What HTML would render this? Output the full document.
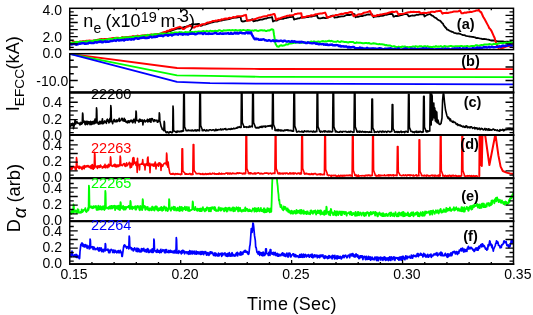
<!DOCTYPE html>
<html><head><meta charset="utf-8"><style>
html,body{margin:0;padding:0;background:#fff;}
svg{display:block;}
</style></head><body>
<svg width="533" height="315" viewBox="0 0 533 315">
<rect width="533" height="315" fill="#fff"/>
<defs>
<clipPath id="ca"><rect x="69.8" y="8.3" width="443.8" height="41.3"/></clipPath>
<clipPath id="cb"><rect x="69.8" y="53.7" width="443.8" height="38.8"/></clipPath>
<clipPath id="cc"><rect x="69.8" y="92.6" width="443.8" height="42.6"/></clipPath>
<clipPath id="cd"><rect x="69.8" y="135.2" width="443.8" height="43.0"/></clipPath>
<clipPath id="ce"><rect x="69.8" y="178.2" width="443.8" height="43.0"/></clipPath>
<clipPath id="cf"><rect x="69.8" y="221.2" width="443.8" height="42.9"/></clipPath>
</defs>
<polyline points="70.0,42.9 71.5,43.3 73.0,43.1 74.5,42.6 76.0,42.6 77.5,42.4 79.0,42.4 80.5,42.4 82.0,41.7 83.5,41.5 85.0,41.9 86.5,41.5 88.0,41.6 89.5,40.9 91.0,41.1 92.5,41.1 94.0,40.6 95.5,41.0 97.0,40.8 98.5,40.0 100.0,39.9 101.5,40.1 103.0,40.2 104.5,39.7 106.0,39.4 107.5,39.4 109.0,39.0 110.5,39.0 112.0,39.0 113.5,38.8 115.0,38.5 116.5,38.4 118.0,38.2 119.5,38.2 121.0,38.0 122.5,37.6 124.0,38.0 125.5,37.7 127.0,37.6 128.5,37.1 130.0,37.5 131.5,37.3 133.0,36.6 134.5,36.6 136.0,36.8 137.5,36.6 139.0,36.6 140.5,36.1 142.0,36.3 143.5,36.0 145.0,35.6 146.5,35.7 148.0,35.7 149.5,35.6 151.0,35.2 152.5,35.1 154.0,34.6 155.5,34.6 157.0,34.8 158.5,34.4 160.0,34.1 161.5,33.9 163.0,33.5 164.5,33.0 166.0,32.3 167.5,31.9 169.0,31.4 170.5,31.1 172.0,30.5 173.5,29.9 175.0,29.5 176.5,28.8 178.0,28.4 179.5,28.5 181.0,28.3 182.5,27.7 184.0,27.2 185.0,26.8 185.5,26.8 187.0,26.5 188.5,25.8 190.0,25.0 191.5,24.7 192.0,24.0 193.0,24.2 194.5,24.4 196.0,24.1 197.5,24.0 199.0,23.8 200.5,25.8 202.0,25.6 203.5,24.5 205.0,24.6 206.5,24.1 208.0,23.7 209.5,23.1 210.0,23.0 211.0,22.6 212.5,22.3 214.0,21.9 215.5,21.4 217.0,21.7 218.5,21.1 220.0,20.6 221.5,20.5 223.0,20.2 224.5,19.8 226.0,19.5 227.5,19.3 229.0,19.1 230.0,18.9 230.5,18.7 232.0,18.1 233.5,17.9 235.0,17.5 236.5,17.5 238.0,17.4 239.5,17.0 240.5,16.8 241.0,19.2 241.5,21.1 242.5,21.5 244.0,21.3 245.5,20.8 247.0,20.7 248.5,20.3 250.0,20.4 251.5,19.6 252.5,19.2 253.0,20.6 253.5,21.4 254.5,21.0 256.0,20.7 257.5,20.6 259.0,20.0 260.5,19.7 262.0,19.7 263.5,19.1 265.0,18.7 266.5,18.5 268.0,17.8 269.5,17.7 271.0,17.4 272.0,17.0 272.5,19.0 273.0,21.6 274.0,21.0 275.5,20.4 276.0,20.6 277.0,20.5 278.5,19.5 280.0,19.2 281.5,18.9 283.0,18.9 284.5,18.1 286.0,18.1 287.5,17.7 289.0,17.3 290.0,16.8 290.5,17.2 292.0,16.9 293.0,16.5 293.5,17.8 294.0,19.6 295.0,19.2 296.5,18.9 298.0,18.4 299.5,18.3 301.0,17.5 302.5,17.4 304.0,17.7 305.5,17.4 307.0,16.8 308.5,17.0 310.0,16.4 311.5,16.6 313.0,16.2 314.5,15.8 316.0,15.5 317.0,15.2 317.5,17.1 318.0,17.9 319.0,18.4 320.5,18.4 322.0,18.0 323.5,17.7 325.0,18.1 326.5,18.1 327.0,17.8 328.0,17.4 329.5,16.8 331.0,16.2 332.5,15.6 333.5,15.6 334.0,16.6 334.5,17.6 335.5,17.3 337.0,17.4 338.5,16.9 340.0,16.7 341.5,16.3 343.0,16.4 344.5,16.1 346.0,15.2 347.5,15.0 349.0,14.8 350.0,15.0 350.5,14.8 352.0,14.3 353.5,14.0 354.5,14.1 355.0,15.7 355.5,17.3 356.5,16.7 358.0,16.8 359.5,16.4 361.0,16.0 362.5,16.1 364.0,15.3 365.5,15.3 367.0,14.6 368.5,14.4 370.0,14.7 371.5,13.9 372.0,14.2 373.0,16.1 373.5,17.2 374.5,16.7 376.0,16.5 377.5,16.2 379.0,16.3 380.5,15.9 382.0,15.9 383.5,15.6 385.0,14.8 386.5,14.8 388.0,14.3 389.5,14.0 391.0,13.8 392.5,14.1 393.5,16.7 394.0,16.6 395.5,16.0 397.0,16.0 398.5,15.8 400.0,15.3 401.5,15.1 403.0,14.6 404.5,14.2 406.0,14.1 407.5,14.3 408.5,16.2 409.0,16.4 410.5,15.9 412.0,15.5 413.5,15.7 415.0,15.5 416.5,14.7 418.0,14.9 419.5,14.3 421.0,14.1 422.5,14.4 423.5,13.7 424.0,14.9 424.5,16.5 425.5,15.8 427.0,15.0 428.5,14.5 430.0,14.0 431.5,15.3 433.0,15.9 434.5,17.4 436.0,18.0 437.5,19.4 439.0,20.3 440.0,20.6 440.5,21.1 442.0,22.9 443.0,23.7 443.5,24.9 445.0,27.0 446.5,28.5 447.0,29.6 448.0,29.7 449.5,30.7 451.0,31.4 452.0,31.9 452.5,31.8 454.0,32.8 455.5,33.2 457.0,33.6 458.5,33.4 460.0,33.8 461.5,34.5 463.0,35.1 464.5,35.2 466.0,35.8 467.5,36.1 469.0,36.3 470.0,36.7 470.5,36.6 472.0,36.9 473.5,37.0 475.0,37.4 476.5,38.1 478.0,38.0 479.5,38.4 481.0,38.6 482.5,39.1 484.0,38.9 485.5,39.1 487.0,39.4 488.5,39.6 490.0,40.2 491.5,40.5 493.0,40.3 494.5,40.6 496.0,41.0 497.5,41.3 499.0,41.5 500.0,41.4 500.5,41.3 502.0,41.5 503.5,41.5 505.0,41.9 506.5,41.6 508.0,41.7 509.5,42.2 511.0,42.0 512.5,42.4" fill="none" stroke="#000" stroke-width="1.8" stroke-linejoin="round" clip-path="url(#ca)"/>
<polyline points="70.0,43.0 71.5,42.8 73.0,41.9 74.5,41.8 76.0,42.3 77.5,42.0 79.0,41.8 80.5,41.4 82.0,41.5 83.5,41.3 85.0,41.2 86.5,40.7 88.0,40.7 89.5,40.6 91.0,40.7 92.5,40.7 94.0,40.6 95.5,40.1 97.0,39.9 98.5,39.6 100.0,39.2 101.5,39.1 103.0,39.3 104.5,39.0 106.0,38.9 107.5,39.2 109.0,38.7 110.5,38.6 112.0,38.2 113.5,37.9 115.0,38.0 116.5,37.7 118.0,37.8 119.5,38.0 121.0,37.6 122.5,37.1 124.0,37.5 125.5,37.3 127.0,37.1 128.5,37.1 130.0,36.8 131.5,36.7 133.0,36.2 134.5,36.6 136.0,36.4 137.5,35.6 139.0,36.0 140.5,35.8 142.0,35.4 143.5,35.4 145.0,35.2 146.5,35.4 148.0,34.9 149.5,35.0 151.0,34.5 152.5,34.8 154.0,34.7 155.5,34.2 157.0,34.1 158.5,34.3 160.0,34.0 161.5,33.2 163.0,32.4 164.5,31.9 166.0,31.7 167.5,30.7 169.0,30.7 170.0,29.8 170.5,30.2 172.0,29.2 173.5,29.2 175.0,28.5 176.5,27.9 178.0,27.4 179.5,27.0 180.0,26.8 181.0,27.3 182.5,28.5 183.0,29.1 184.0,28.9 185.5,27.8 187.0,26.6 188.5,26.4 190.0,25.5 191.5,26.8 193.0,27.5 194.5,27.4 196.0,26.3 197.5,26.3 199.0,25.5 200.0,25.1 200.5,25.4 202.0,24.3 203.5,24.2 205.0,23.9 206.5,23.0 208.0,22.4 209.5,22.5 210.0,21.9 211.0,22.0 212.5,21.1 214.0,21.1 215.5,20.6 217.0,20.7 218.5,20.0 220.0,20.4 221.5,19.3 223.0,19.6 224.5,18.7 226.0,18.6 227.5,18.8 229.0,17.9 230.0,17.7 230.5,18.1 232.0,17.6 233.5,17.0 235.0,17.5 236.5,16.6 238.0,16.3 239.5,16.3 241.0,16.2 242.5,16.1 244.0,15.3 245.5,15.3 246.0,14.9 247.0,20.7 248.5,20.5 250.0,20.2 251.5,19.9 253.0,19.5 254.5,19.2 256.0,18.7 257.5,18.1 259.0,17.6 260.5,17.6 262.0,16.9 263.5,16.4 265.0,16.3 266.5,16.3 268.0,15.3 269.5,15.3 271.0,14.8 272.5,14.5 274.0,13.9 274.7,14.4 275.5,17.3 276.0,19.8 277.0,19.3 278.5,18.5 280.0,18.5 281.5,17.7 283.0,17.1 284.5,16.7 286.0,16.3 287.5,15.8 289.0,15.7 290.0,15.3 290.5,15.6 292.0,15.2 293.5,15.0 295.0,14.1 296.5,13.9 298.0,13.5 299.5,13.4 301.0,13.2 301.3,13.2 302.0,17.8 302.5,17.3 304.0,17.1 305.5,16.9 307.0,16.2 308.5,15.9 310.0,15.8 311.5,15.3 313.0,15.5 314.5,14.8 316.0,14.3 317.5,14.1 319.0,13.8 320.5,13.5 322.0,13.4 323.5,13.1 325.0,12.6 325.3,12.8 326.5,15.7 327.0,17.6 328.0,17.5 329.5,16.9 331.0,16.4 332.5,16.1 334.0,15.8 335.5,15.1 337.0,15.0 338.5,14.8 340.0,14.2 341.5,13.8 343.0,14.0 344.5,13.3 346.0,13.1 347.5,13.1 349.0,12.5 350.5,12.0 352.0,12.2 353.5,16.2 355.0,15.5 356.5,15.5 358.0,14.6 359.5,14.3 361.0,14.3 362.5,13.7 364.0,12.7 365.5,12.6 367.0,12.1 368.5,11.7 370.0,11.0 371.5,14.3 372.5,16.0 373.0,16.0 374.5,15.8 376.0,15.9 377.5,14.9 379.0,15.2 380.5,14.4 382.0,14.4 383.5,13.9 385.0,13.7 386.5,13.6 388.0,13.0 389.5,12.5 391.0,12.1 392.5,11.8 394.0,12.1 395.5,11.6 397.0,11.6 398.5,14.8 400.0,13.9 401.5,14.0 403.0,13.8 404.5,13.4 406.0,12.9 407.5,12.5 409.0,12.2 410.0,12.2 410.5,11.8 412.0,11.9 413.5,11.8 415.0,12.1 416.5,11.9 418.0,11.9 419.0,11.8 419.5,11.9 420.5,13.1 421.0,13.2 422.5,12.9 424.0,12.8 425.5,12.9 427.0,12.9 428.5,12.5 430.0,12.5 431.5,11.7 433.0,11.8 434.5,12.1 436.0,11.3 437.5,11.3 439.0,10.9 440.5,10.7 441.0,11.3 442.0,13.1 442.5,13.7 443.5,13.1 445.0,13.0 446.5,12.7 448.0,12.9 449.5,12.6 451.0,12.2 452.5,12.0 454.0,11.4 455.5,11.6 457.0,11.6 458.5,11.2 460.0,10.5 461.5,13.3 463.0,13.2 464.5,12.6 466.0,12.8 467.5,12.2 469.0,12.2 470.5,11.7 472.0,11.9 473.5,11.4 475.0,11.0 476.5,10.4 478.0,10.4 478.8,9.9 479.5,11.0 481.0,12.6 481.2,12.2 482.5,15.3 483.3,17.0 484.0,18.1 485.5,20.8 486.3,22.3 487.0,23.6 488.5,26.4 489.3,28.4 490.0,28.7 491.3,30.6 491.5,31.0 493.0,34.3 494.3,37.3 494.5,37.5 496.0,42.9 496.3,43.7 497.5,46.2 498.3,47.9 499.0,47.8 500.5,47.8 501.0,48.3 502.0,48.1 503.5,47.7 505.0,47.0 506.0,46.8 506.5,46.0 508.0,46.4 509.5,45.8 511.0,45.3 512.5,45.2" fill="none" stroke="#f00" stroke-width="2.0" stroke-linejoin="round" clip-path="url(#ca)"/>
<polyline points="70.0,42.7 71.2,42.9 72.4,42.6 73.6,42.7 74.8,42.6 76.0,42.0 77.2,41.8 78.4,42.5 79.6,41.8 80.8,41.7 82.0,42.3 83.2,41.7 84.4,41.9 85.6,41.4 86.8,41.5 88.0,40.9 89.2,41.2 90.4,41.3 91.6,40.9 92.8,41.0 94.0,40.8 95.2,40.0 96.4,40.6 97.6,40.3 98.8,39.9 100.0,39.5 101.2,40.2 102.4,39.7 103.6,39.9 104.8,39.9 106.0,39.6 107.2,39.7 108.4,39.1 109.6,39.3 110.8,38.9 112.0,39.2 113.2,39.1 114.4,38.2 115.6,38.1 116.8,38.0 118.0,38.7 119.2,38.0 120.4,38.1 121.6,37.6 122.8,37.7 124.0,37.5 125.2,37.3 126.4,37.4 127.6,37.3 128.8,37.5 130.0,37.2 131.2,37.3 132.4,37.1 133.6,37.1 134.8,36.7 136.0,36.1 137.2,36.6 138.4,36.6 139.6,36.4 140.8,36.0 142.0,36.0 143.2,35.4 144.4,35.9 145.6,35.5 146.8,35.1 148.0,34.8 149.2,35.4 150.4,35.4 151.6,34.4 152.8,35.0 154.0,34.5 155.2,34.1 156.4,34.2 157.6,34.5 158.8,34.5 160.0,33.5 161.2,34.0 162.4,33.4 163.6,33.9 164.8,33.5 166.0,33.9 167.2,33.9 168.4,33.4 169.6,33.8 170.8,33.0 172.0,32.7 173.2,33.1 174.4,32.5 175.6,32.5 176.8,32.6 178.0,32.8 179.2,32.2 180.0,32.0 180.4,32.8 181.6,32.2 182.8,32.8 184.0,32.7 185.2,32.1 186.4,32.2 187.6,32.2 188.8,32.2 190.0,32.1 191.2,32.1 192.4,32.1 193.6,32.3 194.8,31.8 196.0,31.7 197.2,31.9 198.4,31.4 199.6,31.4 200.0,32.1 200.8,31.6 202.0,31.6 203.2,31.0 204.4,31.3 205.6,31.4 206.8,30.8 208.0,31.4 209.2,31.3 210.4,30.7 211.6,31.2 212.8,31.0 214.0,31.2 215.2,30.8 216.4,31.1 217.6,31.1 218.8,30.3 220.0,30.3 221.2,30.9 222.4,31.1 223.6,30.3 224.8,30.5 226.0,30.6 227.2,30.2 228.4,30.2 229.6,30.1 230.0,30.2 230.8,30.4 232.0,30.1 233.2,30.2 234.4,30.6 235.6,29.9 236.8,30.4 238.0,30.6 239.2,30.2 240.4,30.1 241.6,30.7 242.8,30.1 244.0,30.1 245.2,30.4 246.4,30.6 247.6,30.0 248.8,30.3 250.0,30.3 251.2,30.8 252.4,30.4 253.6,30.8 254.8,30.2 256.0,30.3 257.2,30.7 258.4,30.9 259.6,30.5 260.8,30.3 262.0,30.2 263.2,30.6 264.4,30.3 265.6,30.9 266.8,30.9 268.0,30.3 268.7,30.4 269.2,30.6 270.4,29.8 271.0,29.6 271.6,29.3 272.8,29.5 273.3,29.8 274.0,34.7 275.2,41.9 275.5,43.8 276.4,45.3 277.3,46.6 277.6,46.5 278.8,46.7 280.0,45.6 281.2,45.2 282.4,45.8 283.6,45.4 284.8,45.2 286.0,44.3 287.2,44.5 288.4,44.2 289.6,43.1 290.0,43.5 290.8,43.6 292.0,43.3 293.2,43.1 294.4,42.8 295.6,42.8 296.8,42.6 298.0,42.3 299.2,42.8 300.4,42.4 301.6,42.9 302.8,42.0 304.0,42.8 305.2,42.5 306.4,42.7 307.6,42.6 308.8,42.5 310.0,42.1 311.2,41.5 312.4,42.1 313.6,41.5 314.8,41.6 316.0,41.9 317.2,41.7 318.4,41.5 319.6,42.0 320.8,41.6 322.0,41.2 323.2,41.1 324.4,41.6 325.6,41.2 326.8,41.4 328.0,41.0 329.2,40.7 330.0,41.0 330.4,41.3 331.6,40.8 332.8,41.5 334.0,41.7 335.2,41.7 336.4,41.8 337.6,41.0 338.8,41.7 340.0,42.1 341.2,41.3 342.4,41.6 343.6,41.7 344.8,42.1 346.0,42.0 347.2,42.2 348.4,42.6 349.6,41.9 350.0,42.0 350.8,42.1 352.0,42.1 353.2,42.1 354.4,43.1 355.6,43.1 356.8,42.3 358.0,42.8 359.2,42.7 360.4,42.8 361.6,42.9 362.8,43.2 364.0,43.2 365.2,43.1 366.4,43.0 367.6,43.2 368.8,43.0 370.0,43.5 371.2,43.7 372.4,43.5 373.6,43.2 374.8,43.4 376.0,43.7 377.2,44.0 378.4,44.2 379.6,43.9 380.0,44.3 380.8,44.3 382.0,44.3 383.2,44.4 384.4,44.8 385.6,45.2 386.8,45.1 388.0,45.6 389.2,45.6 390.4,45.6 391.6,46.1 392.8,46.5 394.0,46.1 395.0,46.6 395.2,46.6 396.4,47.1 397.6,47.2 398.8,46.6 400.0,47.1 401.2,47.0 402.4,46.5 403.6,46.7 404.8,46.4 406.0,47.1 407.2,46.9 408.4,47.2 409.6,47.1 410.0,47.0 410.8,47.0 412.0,46.8 413.2,46.4 414.4,46.8 415.6,46.2 416.8,46.4 418.0,47.0 419.2,46.3 420.4,46.3 421.6,46.3 422.8,47.1 424.0,46.3 425.2,46.2 426.4,47.0 427.6,46.2 428.8,47.0 430.0,46.8 431.2,46.9 432.4,47.0 433.6,46.6 434.8,46.9 436.0,46.1 437.2,46.8 438.4,46.5 439.6,46.7 440.8,46.1 442.0,46.7 443.2,46.9 444.4,46.0 445.6,46.3 446.8,46.5 448.0,46.7 449.2,46.2 450.4,46.1 451.6,46.1 452.8,46.5 454.0,46.6 455.2,46.2 456.4,46.2 457.6,46.2 458.8,46.2 460.0,46.2 461.2,45.9 462.4,46.3 463.6,46.7 464.8,46.2 466.0,46.5 467.2,45.9 468.4,46.4 469.6,46.5 470.0,46.4 470.8,46.1 472.0,46.0 473.2,46.0 474.4,46.2 475.6,45.3 476.8,45.2 478.0,45.7 479.2,45.8 480.4,45.2 481.6,45.1 482.8,45.2 484.0,44.6 485.2,44.5 486.4,44.4 487.6,44.6 488.8,44.3 490.0,44.1 491.2,44.4 492.4,44.6 493.6,43.8 494.8,44.1 496.0,43.7 497.2,44.0 498.4,43.6 499.6,43.2 500.0,43.1 500.8,42.9 502.0,43.2 503.2,43.0 504.4,42.7 505.6,42.8 506.8,42.6 508.0,43.0 509.2,42.3 510.4,43.0 511.6,42.4 512.8,42.4" fill="none" stroke="#0f0" stroke-width="2.0" stroke-linejoin="round" clip-path="url(#ca)"/>
<polyline points="70.0,44.5 71.0,44.2 72.0,44.5 73.0,44.1 74.0,43.9 75.0,44.2 76.0,44.7 77.0,44.5 78.0,44.4 79.0,43.6 80.0,43.9 81.0,43.5 82.0,43.3 83.0,43.1 84.0,43.2 85.0,43.9 86.0,43.7 87.0,43.6 88.0,43.5 89.0,42.7 90.0,42.7 91.0,43.0 92.0,43.0 93.0,43.1 94.0,43.0 95.0,42.0 96.0,42.5 97.0,42.5 98.0,42.2 99.0,41.7 100.0,42.0 101.0,41.4 102.0,42.4 103.0,42.2 104.0,41.7 105.0,41.3 106.0,42.0 107.0,41.5 108.0,41.8 109.0,41.7 110.0,41.2 111.0,41.0 112.0,41.1 113.0,40.8 114.0,40.4 115.0,40.5 116.0,41.0 117.0,40.0 118.0,40.0 119.0,40.6 120.0,40.1 121.0,40.3 122.0,40.1 123.0,39.9 124.0,40.6 125.0,39.6 126.0,39.7 127.0,39.4 128.0,39.8 129.0,39.3 130.0,39.3 131.0,39.7 132.0,39.1 133.0,39.2 134.0,39.5 135.0,38.4 136.0,38.3 137.0,38.4 138.0,38.9 139.0,38.6 140.0,38.0 141.0,38.0 142.0,37.7 143.0,37.9 144.0,37.3 145.0,38.0 146.0,38.1 147.0,38.1 148.0,37.7 149.0,37.8 150.0,36.6 151.0,36.8 152.0,37.5 153.0,37.1 154.0,36.6 155.0,37.1 156.0,36.6 157.0,36.7 158.0,36.0 159.0,35.7 160.0,35.9 161.0,35.5 162.0,35.7 163.0,36.3 164.0,35.5 165.0,35.0 166.0,34.9 167.0,35.0 168.0,35.7 169.0,35.1 170.0,34.9 171.0,34.6 172.0,35.6 173.0,34.8 174.0,34.5 175.0,34.2 176.0,34.1 177.0,34.2 178.0,34.7 179.0,34.0 180.0,33.7 181.0,34.3 182.0,33.9 183.0,34.8 184.0,33.7 185.0,34.2 186.0,34.4 187.0,34.0 188.0,34.6 189.0,34.0 190.0,33.7 191.0,33.9 192.0,33.4 193.0,33.8 194.0,33.6 195.0,34.3 196.0,34.2 197.0,33.8 198.0,33.2 199.0,33.4 200.0,33.4 201.0,33.3 202.0,33.3 203.0,34.1 204.0,33.2 205.0,33.0 206.0,34.0 207.0,33.6 208.0,34.0 209.0,33.3 210.0,33.9 211.0,33.6 212.0,33.7 213.0,33.7 214.0,33.4 215.0,32.9 216.0,33.0 217.0,33.8 218.0,33.8 219.0,33.9 220.0,33.2 221.0,33.5 222.0,33.7 223.0,33.5 224.0,33.7 225.0,33.4 226.0,33.5 227.0,33.5 228.0,33.0 229.0,33.8 230.0,33.8 231.0,32.8 232.0,33.8 233.0,33.8 234.0,33.4 235.0,32.6 236.0,33.6 237.0,32.7 238.0,33.7 239.0,33.3 240.0,32.5 241.0,32.6 242.0,33.2 243.0,33.1 244.0,33.3 245.0,33.5 246.0,32.6 247.0,32.3 248.0,33.4 249.0,32.3 250.0,33.3 251.0,32.3 252.0,34.9 253.0,36.5 254.0,38.3 254.5,38.8 255.0,39.2 256.0,38.5 257.0,39.2 258.0,38.9 259.0,39.8 260.0,39.7 261.0,39.5 262.0,39.7 263.0,39.2 264.0,39.4 265.0,40.2 266.0,40.2 267.0,40.8 268.0,40.6 269.0,40.1 270.0,40.5 271.0,41.1 272.0,40.8 273.0,40.2 274.0,41.2 275.0,41.2 276.0,40.4 277.0,41.0 278.0,40.8 279.0,41.3 280.0,40.8 281.0,40.7 282.0,41.0 283.0,41.6 284.0,40.6 285.0,40.7 286.0,41.3 287.0,41.7 288.0,41.3 289.0,41.2 290.0,41.7 291.0,41.7 292.0,41.0 293.0,42.0 294.0,41.3 295.0,41.5 296.0,42.2 297.0,41.8 298.0,42.3 299.0,41.7 300.0,42.6 301.0,41.8 302.0,41.9 303.0,42.4 304.0,42.3 305.0,42.6 306.0,43.1 307.0,43.0 308.0,42.2 309.0,42.7 310.0,43.1 311.0,43.1 312.0,43.4 313.0,43.2 314.0,42.8 315.0,43.1 316.0,43.9 317.0,43.4 318.0,44.0 319.0,44.3 320.0,44.0 321.0,44.1 322.0,44.2 323.0,43.9 324.0,44.7 325.0,44.2 326.0,44.9 327.0,44.2 328.0,45.0 329.0,45.0 330.0,44.8 331.0,44.8 332.0,44.5 333.0,45.4 334.0,45.1 335.0,45.5 336.0,45.0 337.0,45.1 338.0,45.3 339.0,46.2 340.0,45.6 341.0,46.6 342.0,46.1 343.0,46.5 344.0,46.3 345.0,46.8 346.0,46.3 347.0,46.8 348.0,47.6 349.0,46.8 350.0,47.5 351.0,47.2 352.0,47.2 353.0,46.9 354.0,47.0 355.0,48.1 356.0,48.1 357.0,48.1 358.0,48.1 359.0,48.4 360.0,47.5 361.0,48.1 362.0,48.0 363.0,48.2 364.0,48.7 365.0,48.5 366.0,48.8 367.0,47.8 368.0,48.5 369.0,48.5 370.0,48.6 371.0,48.5 372.0,48.8 373.0,48.2 374.0,49.0 375.0,48.4 376.0,48.6 377.0,49.0 378.0,48.8 379.0,48.3 380.0,48.3 381.0,48.4 382.0,48.8 383.0,49.3 384.0,49.2 385.0,48.6 386.0,48.6 387.0,49.1 388.0,48.5 389.0,48.7 390.0,48.2 391.0,48.4 392.0,48.9 393.0,49.1 394.0,49.0 395.0,48.7 396.0,49.5 397.0,49.1 398.0,48.5 399.0,48.5 400.0,49.6 401.0,49.6 402.0,49.5 403.0,49.1 404.0,48.8 405.0,48.5 406.0,48.7 407.0,48.7 408.0,49.5 409.0,49.5 410.0,49.3 411.0,48.6 412.0,48.7 413.0,48.8 414.0,49.5 415.0,48.6 416.0,49.3 417.0,49.2 418.0,49.1 419.0,49.6 420.0,48.7 421.0,49.0 422.0,48.6 423.0,48.5 424.0,48.4 425.0,48.8 426.0,48.5 427.0,48.5 428.0,49.6 429.0,48.7 430.0,49.5 431.0,49.2 432.0,49.3 433.0,49.2 434.0,49.5 435.0,49.5 436.0,49.3 437.0,49.1 438.0,49.2 439.0,49.3 440.0,49.1 441.0,49.0 442.0,48.6 443.0,49.4 444.0,49.0 445.0,48.5 446.0,48.6 447.0,49.4 448.0,48.7 449.0,48.9 450.0,49.2 451.0,49.4 452.0,48.7 453.0,48.8 454.0,48.8 455.0,48.3 456.0,49.3 457.0,48.2 458.0,49.3 459.0,48.3 460.0,48.3 461.0,49.1 462.0,49.0 463.0,48.3 464.0,48.6 465.0,48.5 466.0,48.8 467.0,48.1 468.0,48.9 469.0,49.0 470.0,48.6 471.0,48.8 472.0,48.8 473.0,48.0 474.0,48.5 475.0,48.5 476.0,48.1 477.0,47.4 478.0,48.0 479.0,48.3 480.0,47.5 481.0,47.8 482.0,48.0 483.0,47.6 484.0,46.9 485.0,47.5 486.0,47.0 487.0,47.6 488.0,47.3 489.0,46.8 490.0,47.5 491.0,47.1 492.0,46.7 493.0,47.2 494.0,47.2 495.0,47.1 496.0,47.0 497.0,46.7 498.0,46.7 499.0,46.5 500.0,46.3 501.0,46.8 502.0,45.9 503.0,45.5 504.0,46.1 505.0,45.8 506.0,45.7 507.0,45.7 508.0,45.1 509.0,45.0 510.0,44.7 511.0,45.5 512.0,45.5 513.0,45.1" fill="none" stroke="#00f" stroke-width="2.4" stroke-linejoin="round" clip-path="url(#ca)"/>
<polyline points="69.8,53.9 177.0,68.0 210.0,68.5 260.0,69.0 513.5,69.2" fill="none" stroke="#f00" stroke-width="1.8" stroke-linejoin="round" clip-path="url(#cb)"/>
<polyline points="69.8,53.9 177.0,75.3 210.0,75.9 260.0,76.8 513.5,77.1" fill="none" stroke="#0f0" stroke-width="1.8" stroke-linejoin="round" clip-path="url(#cb)"/>
<polyline points="69.8,53.9 177.0,81.9 210.0,83.1 260.0,83.7 513.5,84.3" fill="none" stroke="#00f" stroke-width="1.8" stroke-linejoin="round" clip-path="url(#cb)"/>
<polyline points="70.0,125.1 70.5,126.7 71.0,125.1 71.5,123.8 72.0,125.3 72.5,123.3 73.0,123.2 73.5,128.6 74.0,126.1 74.5,124.7 74.7,123.3 75.0,119.7 75.3,120.4 75.6,124.0 76.9,121.7 77.4,122.5 77.9,123.3 78.4,123.5 78.9,123.3 79.4,123.1 79.9,124.9 80.4,124.3 80.9,122.4 81.4,124.2 81.9,122.7 82.4,122.6 82.2,123.6 82.6,113.0 82.9,114.5 83.2,122.5 84.5,121.2 85.0,124.4 85.5,124.7 86.0,121.4 86.5,123.9 87.0,121.4 87.5,124.5 88.0,121.5 88.5,123.5 89.0,121.7 89.5,122.6 90.0,124.6 90.5,121.4 91.0,121.7 91.5,124.5 92.0,122.0 92.5,121.7 93.0,124.0 93.5,121.3 94.0,121.6 94.5,123.6 95.0,119.0 95.5,122.9 96.0,123.0 96.2,122.5 96.5,107.9 96.8,110.1 97.1,121.9 98.4,124.2 98.9,122.8 99.4,121.4 99.9,124.0 100.4,121.6 100.9,123.3 101.4,121.2 101.9,123.7 102.4,118.7 102.9,123.8 103.4,122.9 103.9,123.2 104.4,121.3 104.9,120.8 105.4,122.1 105.9,122.2 106.4,123.3 106.9,120.0 107.4,119.2 107.9,121.1 108.4,120.2 108.9,122.9 109.4,122.0 109.9,118.4 110.4,119.6 110.5,121.6 110.8,105.6 111.1,108.0 111.4,120.5 112.7,123.7 113.2,120.9 113.7,120.3 114.2,119.4 114.7,121.7 115.2,121.6 115.7,121.7 116.2,120.0 116.7,121.8 117.2,119.9 117.7,121.4 118.2,120.4 118.7,120.1 119.2,118.2 119.7,121.4 120.2,120.4 120.7,120.5 121.2,119.6 121.7,118.4 122.2,118.4 122.7,120.1 123.2,121.0 123.7,120.8 124.2,118.3 124.7,121.3 125.2,119.6 125.7,121.5 126.2,122.5 126.7,121.8 127.2,121.1 127.7,122.9 128.2,121.1 128.7,120.8 129.2,122.6 129.7,122.1 130.2,120.5 130.7,121.1 131.2,120.2 131.7,121.6 132.2,120.5 132.7,122.8 133.2,122.1 133.7,119.4 134.2,121.2 134.7,119.4 135.2,123.0 135.7,116.7 135.7,121.1 136.0,111.0 136.3,112.5 136.6,120.3 137.9,120.5 138.4,121.2 138.9,122.2 139.4,119.5 139.9,119.2 140.4,121.3 140.9,119.7 141.4,121.2 141.9,120.8 142.4,120.0 142.9,124.9 143.4,120.9 143.9,120.8 144.4,119.9 144.9,121.7 145.4,121.9 145.9,120.8 146.4,121.1 146.9,120.8 147.4,119.2 147.9,122.0 148.4,120.4 148.9,119.6 149.4,121.5 149.9,118.7 150.4,120.3 150.9,122.3 151.4,118.6 151.9,118.9 152.4,118.7 152.9,120.1 153.4,121.3 153.9,121.6 154.4,119.7 154.9,120.1 155.4,120.9 155.9,120.4 156.4,120.6 156.9,120.1 157.4,122.2 157.9,122.1 158.4,121.1 158.9,120.1 159.0,121.3 159.3,112.9 159.6,114.2 159.9,120.9 161.2,126.8 161.7,127.5 162.2,129.4 162.7,129.2 163.2,129.6 163.7,130.6 163.8,130.7 164.2,121.3 164.5,122.7 164.8,130.2 166.1,132.5 166.6,132.7 167.1,131.8 167.6,132.5 168.1,132.2 168.6,133.0 169.1,132.9 169.6,131.9 170.1,132.2 170.6,131.7 171.1,132.1 171.6,132.6 172.1,132.7 172.6,132.0 172.7,131.9 173.0,106.0 173.3,109.9 173.6,130.7 175.1,131.5 175.6,132.0 176.1,132.4 176.6,131.3 177.1,132.2 177.6,131.1 178.1,131.3 178.6,131.3 179.1,131.9 179.6,131.4 180.1,131.4 180.6,131.7 181.1,130.9 181.6,131.7 182.1,130.8 182.6,131.3 183.1,130.8 183.6,130.7 183.3,131.1 183.7,94.0 184.3,94.0 184.6,126.7 186.1,130.4 186.1,130.7 186.6,130.6 187.1,130.6 187.6,130.7 188.1,130.1 188.6,130.1 189.1,130.6 189.6,130.5 190.1,130.3 190.6,130.8 191.1,130.5 191.6,130.8 192.1,129.9 192.6,130.7 193.1,130.8 193.6,130.9 194.1,130.1 194.6,130.1 195.1,130.9 195.6,129.9 196.1,131.0 196.6,130.9 197.1,129.8 197.6,130.0 198.1,130.7 198.6,130.0 199.1,129.8 199.6,130.8 199.5,130.3 199.8,90.0 200.4,90.0 200.7,125.5 202.2,129.5 202.2,130.8 202.7,129.8 203.2,130.2 203.7,130.6 204.2,129.7 204.7,130.0 205.2,130.6 205.7,131.0 206.2,131.0 206.7,129.8 207.2,130.4 207.7,130.7 208.2,130.4 208.7,130.7 209.2,130.0 209.7,129.8 210.2,129.8 210.7,129.7 211.2,130.4 211.7,130.3 212.2,130.3 212.7,129.7 213.2,129.7 213.7,129.7 214.2,130.6 214.7,130.7 215.2,130.6 215.7,129.4 216.2,129.3 216.7,130.5 217.2,129.8 217.7,130.2 218.2,129.5 218.7,129.7 219.2,129.7 219.7,129.6 220.2,129.8 220.7,128.9 221.2,129.8 221.7,130.0 222.2,129.0 222.7,129.4 223.2,129.7 223.7,129.2 224.2,128.9 224.7,128.8 225.2,129.3 225.7,128.5 226.2,129.7 226.7,129.6 227.2,129.4 227.7,129.6 228.2,129.2 228.7,128.9 229.2,129.1 229.7,128.9 230.2,129.5 230.7,129.2 231.2,128.4 231.7,129.2 232.2,128.9 232.7,128.9 233.2,128.8 233.7,128.2 234.2,128.8 234.7,128.7 235.2,128.3 235.7,128.4 236.2,128.3 236.7,127.7 237.2,128.1 237.7,127.1 238.2,127.4 238.7,127.5 239.2,126.7 239.7,127.1 240.2,127.5 240.7,127.4 241.2,126.7 241.1,127.4 241.4,90.0 242.0,90.0 242.3,122.6 243.8,126.3 243.8,127.2 244.3,126.7 244.8,127.1 245.3,127.0 245.8,126.9 246.3,126.7 246.8,127.5 247.3,127.0 247.8,127.0 248.3,127.1 248.8,127.4 249.3,126.0 249.8,126.8 250.3,127.0 250.8,126.3 251.3,126.5 251.8,126.0 252.3,126.4 252.3,126.9 252.7,90.0 253.3,90.0 253.6,122.6 255.1,126.3 255.1,127.1 255.6,127.3 256.1,128.1 256.6,127.6 257.1,127.4 257.6,128.0 258.1,127.4 258.6,128.0 259.1,127.4 259.6,127.6 260.1,126.5 260.6,127.2 261.1,127.3 261.6,126.3 262.1,127.4 262.6,126.3 263.1,126.7 263.6,126.2 264.1,126.6 264.6,126.7 265.1,125.9 265.6,127.1 266.1,126.3 266.6,126.4 267.1,126.4 267.6,126.0 268.1,125.8 268.6,126.3 269.1,126.1 269.6,125.7 270.1,126.2 270.6,125.6 271.1,125.3 271.6,126.7 272.1,127.5 272.2,128.9 272.6,90.0 273.2,90.0 273.5,124.5 275.0,128.4 275.0,130.4 275.5,129.9 276.0,130.6 276.5,130.5 277.0,129.5 277.5,130.8 278.0,130.8 278.5,129.6 279.0,130.7 279.5,130.1 280.0,130.2 280.5,130.9 281.0,129.9 281.5,130.3 282.0,130.9 282.5,130.6 283.0,130.3 283.5,131.0 284.0,130.8 284.5,130.5 285.0,129.8 285.5,130.5 286.0,130.3 286.5,130.0 287.0,129.8 287.5,130.5 288.0,129.9 288.5,130.4 289.0,130.7 289.5,130.4 290.0,130.2 290.5,130.6 291.0,130.4 291.5,130.9 292.0,130.6 292.5,131.3 293.0,131.2 293.5,131.2 293.5,130.8 293.9,90.0 294.5,90.0 294.8,126.1 296.3,130.2 296.3,131.0 296.8,132.1 297.3,131.9 297.8,131.7 298.3,131.3 298.8,131.2 299.3,131.8 299.8,131.6 300.3,131.7 300.8,131.7 301.3,131.9 301.8,131.1 302.3,131.2 302.8,132.2 303.3,132.1 303.8,132.1 304.3,130.9 304.8,130.9 305.3,131.2 305.8,131.4 306.3,131.7 306.8,131.0 307.3,131.6 307.8,131.0 308.3,131.0 308.8,131.8 309.3,131.6 309.8,131.8 310.3,131.4 310.8,131.5 311.3,131.2 311.8,131.4 312.3,131.9 312.8,132.1 313.3,131.0 313.8,131.1 314.3,132.0 314.8,131.8 315.3,132.0 315.8,131.2 316.3,131.4 316.8,131.1 316.8,131.7 317.1,90.0 317.7,90.0 318.0,126.5 319.5,130.6 319.5,131.2 320.0,131.6 320.5,132.1 321.0,131.2 321.5,131.5 322.0,131.8 322.5,132.0 323.0,131.4 323.5,131.3 324.0,130.9 324.5,132.0 325.0,130.9 325.5,131.0 326.0,131.7 326.5,131.6 327.0,131.9 327.5,131.3 328.0,132.0 328.5,131.1 329.0,131.3 329.5,131.9 330.0,131.1 330.5,131.4 331.0,132.0 331.5,132.0 332.0,131.4 332.5,131.2 332.6,131.6 333.0,90.0 333.6,90.0 333.9,126.7 335.4,130.9 335.4,132.0 335.9,131.5 336.4,131.2 336.9,132.0 337.4,131.8 337.9,132.3 338.4,132.3 338.9,132.3 339.4,131.6 339.9,132.1 340.4,131.4 340.9,131.5 341.4,131.6 341.9,132.3 342.4,132.3 342.9,131.4 343.4,131.5 343.9,131.5 344.4,131.5 344.9,131.6 345.4,131.6 345.9,131.3 346.4,131.8 346.9,132.2 347.4,131.8 347.9,132.2 348.4,131.8 348.9,131.3 349.4,132.1 349.9,132.3 350.4,131.4 350.9,131.1 351.4,131.8 351.9,131.8 352.4,131.8 352.9,132.4 353.4,132.0 353.9,132.2 354.0,131.4 354.4,90.0 355.0,90.0 355.3,126.7 356.8,130.9 356.8,131.8 357.3,132.2 357.8,131.2 358.3,131.2 358.8,132.1 359.3,132.3 359.8,131.2 360.3,132.0 360.8,131.3 361.3,132.1 361.8,132.0 362.3,131.4 362.8,131.4 363.3,132.1 363.8,131.8 364.3,132.1 364.8,131.6 365.3,131.6 365.8,132.4 366.3,132.0 366.8,131.8 367.3,131.8 367.8,132.1 368.3,132.1 368.8,132.4 369.3,131.7 369.8,132.2 370.3,132.0 370.8,132.3 371.3,132.2 371.8,132.3 371.5,132.1 371.9,99.1 372.5,99.1 372.8,127.9 374.3,131.1 374.3,132.4 374.8,132.0 375.3,131.8 375.8,132.1 376.3,132.2 376.8,131.7 377.3,131.7 377.8,131.3 378.3,132.1 378.8,132.5 379.3,131.6 379.8,131.3 380.3,131.4 380.8,131.7 381.3,131.5 381.8,132.5 382.3,131.2 382.8,131.5 383.3,131.3 383.8,132.0 384.3,132.2 384.8,131.4 385.3,131.2 385.8,131.8 386.3,131.9 386.8,132.4 387.3,131.2 387.8,131.3 388.3,131.4 388.8,131.4 389.3,131.5 389.8,132.1 390.3,132.0 390.8,131.4 391.3,131.4 391.8,131.5 391.8,131.6 392.2,104.5 392.8,104.5 393.1,128.6 394.6,131.3 394.6,132.2 395.1,131.6 395.6,131.9 396.1,132.3 396.6,131.8 397.1,131.5 397.6,132.4 398.1,132.4 398.6,131.6 399.1,131.9 399.6,132.5 400.1,131.8 400.6,131.5 401.1,131.2 401.6,132.5 402.1,132.3 402.6,131.7 403.1,131.9 403.6,131.9 404.1,131.5 404.6,132.6 405.1,132.1 405.6,131.5 406.1,131.2 406.6,131.8 407.1,131.7 407.6,132.3 408.1,132.2 408.1,131.9 408.5,94.3 409.1,94.3 409.4,127.4 410.9,131.1 410.9,131.4 411.4,131.4 411.9,131.6 412.4,131.5 412.9,132.4 413.4,131.9 413.9,132.1 414.4,132.6 414.9,131.6 415.4,131.9 415.9,131.4 416.4,132.3 416.9,131.2 417.4,132.3 417.9,132.4 418.4,132.3 418.9,131.3 419.4,131.6 419.9,132.2 420.4,131.3 420.9,131.8 421.4,131.8 421.9,132.4 422.4,131.9 422.9,132.2 423.4,131.4 423.2,131.9 423.6,96.4 424.2,96.4 424.5,127.4 426.0,130.9 426.0,131.4 426.5,132.0 427.0,130.8 427.5,131.8 428.0,130.9 428.5,131.4 429.0,131.3 429.5,130.8 429.8,131.0 430.2,93.0 430.8,93.0 431.2,125.0 431.6,94.0 432.2,96.0 432.6,120.0 433.2,110.0 433.8,103.0 434.3,118.0 434.8,108.0 435.3,121.0 435.8,111.0 436.3,122.0 436.8,112.0 437.3,123.0 438.0,120.0 439.0,124.0 440.0,124.5 441.0,123.5 442.0,118.0 442.6,100.0 443.2,93.8 443.8,94.0 444.5,102.0 445.5,110.0 447.0,116.0 448.0,118.3 448.5,117.2 449.0,119.0 449.5,118.5 450.0,120.6 450.5,119.1 451.0,121.0 451.5,121.0 452.0,121.6 452.5,122.1 453.0,121.1 453.5,121.6 454.0,122.6 454.5,122.1 455.0,122.4 455.5,122.6 456.0,124.0 456.5,124.4 457.0,124.5 457.5,123.8 458.0,125.4 458.5,124.9 459.0,124.7 459.5,125.4 460.0,125.7 460.5,125.1 461.0,126.1 461.5,125.8 462.0,126.2 462.5,126.9 463.0,126.5 463.5,126.2 464.0,127.1 464.5,127.4 465.0,126.5 465.5,127.4 466.0,125.8 466.5,126.1 467.0,126.3 467.5,127.7 468.0,127.3 468.5,127.5 469.0,126.8 469.5,127.2 470.0,128.0 470.5,126.7 471.0,126.8 471.5,126.7 472.0,127.6 472.5,128.3 473.0,127.9 473.5,127.7 474.0,127.9 474.5,127.4 475.0,128.9 475.5,127.9 476.0,127.8 476.5,128.0 477.0,129.0 477.5,128.2 478.0,129.3 478.5,128.4 479.0,128.6 479.5,128.1 480.0,129.6 480.5,129.5 481.0,128.9 481.5,128.3 482.0,129.0 482.5,128.9 483.0,129.7 483.5,129.9 484.0,129.6 484.5,128.8 485.0,128.4 485.5,130.0 486.0,130.1 486.5,128.7 487.0,129.4 487.5,129.4 488.0,130.3 488.5,128.7 489.0,128.7 489.5,130.2 490.0,129.7 490.5,129.6 491.0,130.2 491.5,129.9 492.0,130.1 492.5,129.4 493.0,129.1 493.5,129.0 494.0,129.6 494.5,130.2 495.0,129.8 495.5,129.8 496.0,130.3 496.5,130.5 497.0,130.3 497.5,129.9 498.0,130.8 498.5,130.8 499.0,131.0 499.5,131.1 500.0,129.5 500.5,130.6 501.0,130.0 501.5,130.0 502.0,130.1 502.5,129.4 503.0,129.5 503.5,130.8 504.0,129.5 504.5,130.5 505.0,130.0 505.5,129.2 506.0,129.2 506.5,129.6 507.0,129.7 507.5,129.0 508.0,128.4 508.5,128.5 509.0,129.7 509.5,129.4 510.0,128.2 510.5,129.6 511.0,129.2 511.5,128.9 512.0,130.0 512.5,128.7 513.0,128.7 513.5,129.2" fill="none" stroke="#000" stroke-width="1.6" stroke-linejoin="round" clip-path="url(#cc)"/>
<polyline points="478.5,176.2 479.3,176.0 479.6,134.0 480.3,134.0 480.6,165.0 481.2,134.0 481.8,166.0 482.5,134.0 485.0,134.0 489.4,165.0 495.4,134.0 498.4,155.4 500.6,166.6 502.8,171.0 506.6,172.6 510.0,173.5 513.5,174.0" fill="none" stroke="#f00" stroke-width="2.0" stroke-linejoin="round" clip-path="url(#cd)"/>
<polyline points="70.0,168.7 70.5,169.4 70.9,166.7 71.4,167.7 71.8,169.3 72.3,168.8 72.7,167.1 73.2,167.1 73.6,166.6 74.1,166.6 74.5,167.6 75.0,167.8 75.4,169.8 75.9,166.5 76.3,169.8 76.2,167.9 76.5,157.6 76.8,159.2 77.1,167.5 78.4,166.3 78.8,168.2 79.3,168.5 79.7,166.3 80.2,167.2 80.6,168.0 81.1,167.1 81.5,168.5 82.0,169.5 82.4,167.0 82.9,168.3 83.3,166.0 83.8,167.0 84.2,168.8 84.7,165.6 85.1,167.2 85.6,166.4 86.0,167.1 86.5,165.9 86.9,166.2 87.4,165.6 87.8,166.8 88.3,165.7 88.7,166.3 89.2,167.4 89.6,167.4 90.1,166.1 90.5,166.9 91.0,168.4 91.4,165.4 91.9,168.5 92.3,164.5 92.8,167.8 93.2,169.3 93.7,165.3 94.1,168.3 94.6,167.7 94.2,167.2 94.6,152.4 94.9,154.6 95.2,166.4 96.5,166.9 96.9,166.0 97.4,168.4 97.8,166.0 98.3,165.9 98.7,166.8 99.2,167.5 99.6,165.8 100.1,167.3 100.5,165.1 101.0,166.2 101.4,166.2 101.9,166.7 102.3,168.1 102.8,167.4 103.2,166.7 103.7,167.5 104.1,165.7 104.6,167.2 105.0,164.3 105.5,167.8 105.9,167.7 106.4,166.2 106.8,165.6 107.3,165.4 107.7,167.7 108.2,166.1 108.6,164.4 109.1,166.7 109.5,164.8 110.0,165.1 110.4,164.3 110.2,165.4 110.5,156.9 110.8,158.2 111.1,165.3 112.4,166.4 112.8,166.2 113.3,165.0 113.7,165.3 114.2,166.1 114.6,164.4 115.1,166.6 115.5,164.5 116.0,165.1 116.4,167.0 116.9,166.0 117.3,165.1 117.8,166.6 118.2,165.0 118.7,166.4 119.1,165.2 119.6,164.6 120.0,165.7 119.9,165.1 120.2,156.1 120.5,157.4 120.8,164.5 122.1,165.5 122.5,165.7 123.0,164.7 123.4,163.9 123.9,163.5 124.3,163.6 124.8,165.8 125.2,166.3 125.7,164.0 126.1,166.0 126.6,162.9 127.0,165.7 127.5,165.4 127.9,164.7 128.4,163.8 128.8,163.7 129.3,162.2 129.7,163.0 130.2,167.8 130.6,165.7 131.0,163.3 131.5,167.1 131.9,165.4 132.4,163.4 132.8,158.0 133.3,164.7 133.3,163.0 133.7,157.6 134.0,158.5 134.3,163.4 135.5,162.3 136.0,165.4 136.4,162.1 136.9,164.1 136.8,164.1 137.2,172.5 137.6,164.4 137.2,164.3 137.5,158.4 137.9,163.7 139.2,165.4 139.2,164.4 139.5,170.0 139.9,164.4 141.2,164.0 141.6,163.6 142.0,164.2 142.5,163.2 142.3,164.1 142.7,159.6 143.1,163.9 144.3,165.7 144.8,166.2 144.7,164.0 145.0,170.0 145.4,164.5 146.7,163.8 147.1,165.4 147.5,158.3 148.0,157.0 148.4,165.2 148.9,164.8 149.3,166.3 149.8,163.3 149.7,165.2 150.0,172.8 150.4,164.7 151.7,164.2 152.1,165.4 152.5,164.4 153.0,164.3 153.4,166.2 153.9,165.4 154.3,163.6 154.8,166.1 155.2,162.0 155.7,164.1 155.7,164.9 156.0,169.0 156.4,164.4 157.7,165.3 158.1,163.6 158.5,166.3 159.0,162.8 159.4,164.3 159.9,162.9 160.3,165.0 160.8,166.1 160.7,163.5 161.0,170.5 161.4,164.4 162.7,166.3 163.1,165.1 163.5,164.5 164.0,163.5 164.4,163.4 164.9,163.3 165.3,163.0 165.8,163.2 166.2,164.2 166.2,164.7 166.6,153.1 166.9,154.9 167.2,164.5 167.8,167.1 168.2,162.0 168.6,166.6 169.8,173.2 170.3,173.8 170.7,174.2 171.2,173.9 171.6,174.0 172.1,174.2 172.5,173.5 173.0,174.2 173.4,173.5 173.9,173.7 174.3,174.4 174.8,174.6 175.2,174.2 175.7,173.6 176.1,173.9 176.6,173.7 177.0,174.4 177.5,173.7 177.9,173.6 178.4,174.2 178.8,174.2 179.3,174.1 179.7,174.0 180.2,174.6 180.6,174.0 181.1,174.5 181.5,173.9 182.0,174.0 181.7,173.9 182.0,148.7 182.6,148.7 182.9,171.0 185.1,173.5 185.0,174.3 185.5,174.3 185.9,173.7 186.4,174.0 186.8,174.3 187.3,174.0 187.7,174.2 188.2,174.1 188.6,174.3 189.1,173.8 189.5,173.8 190.0,173.4 190.4,174.5 190.9,174.3 191.3,173.9 191.8,174.6 192.2,174.5 192.7,173.6 193.1,174.4 192.8,174.0 193.2,144.6 193.8,144.6 194.1,170.5 196.3,173.4 196.2,173.8 196.7,173.7 197.1,173.9 197.6,173.5 198.0,173.5 198.5,173.5 198.9,173.8 199.4,173.6 199.8,173.5 200.3,174.4 200.7,173.8 201.2,174.0 201.6,174.1 202.1,174.5 202.5,173.5 203.0,173.6 203.4,174.4 203.9,174.4 204.3,174.4 204.8,174.0 205.2,173.7 205.7,173.5 206.1,174.4 206.6,174.2 207.0,173.9 207.5,174.2 207.9,173.6 208.4,173.9 208.8,174.3 209.3,173.4 209.7,174.0 210.2,173.4 210.6,174.2 211.1,174.2 211.5,174.0 212.0,173.7 212.4,173.2 212.9,173.8 213.3,173.6 213.8,173.6 214.2,173.2 214.7,174.2 215.1,173.8 215.6,173.8 216.0,174.1 216.5,174.2 216.9,173.8 217.4,173.7 217.8,174.1 218.3,173.5 218.7,174.2 219.2,173.1 219.6,174.0 220.1,173.7 220.5,173.8 221.0,174.2 221.4,173.3 221.9,173.5 222.3,174.0 222.8,173.9 223.2,173.6 223.7,173.9 224.1,173.8 224.6,174.0 225.0,173.7 225.5,173.4 225.9,173.3 226.4,173.0 226.8,173.1 227.3,173.0 227.7,174.1 228.2,173.1 228.6,173.6 229.1,173.1 229.5,174.0 230.0,173.5 230.4,173.1 230.9,173.9 231.3,173.9 231.8,174.0 232.2,173.1 232.7,173.3 233.1,173.6 233.6,173.2 234.0,173.5 234.5,173.6 234.9,173.7 235.4,173.8 235.8,173.7 236.3,173.1 236.7,173.7 237.2,173.3 237.6,172.9 238.1,172.8 238.5,173.5 239.0,173.1 239.4,172.8 239.9,173.3 240.3,173.2 240.8,173.1 241.2,173.4 241.7,173.4 242.1,173.3 242.6,173.9 243.0,173.8 243.5,173.1 243.9,173.8 244.4,173.1 244.8,173.8 245.3,172.8 245.7,173.1 245.7,173.6 246.0,132.0 246.6,132.0 246.9,168.4 248.4,172.5 248.3,173.5 248.8,173.6 249.2,173.0 249.7,172.9 250.1,173.9 250.6,172.8 251.0,172.9 251.5,173.3 251.9,173.7 252.4,173.6 252.8,173.9 253.3,173.7 253.7,173.3 254.2,173.8 254.6,173.1 255.1,172.8 255.5,173.9 256.0,173.8 256.4,173.5 256.9,173.3 257.3,173.0 257.8,173.0 258.2,172.8 258.7,172.9 259.1,173.3 259.6,173.8 260.0,173.9 260.5,173.4 260.9,173.6 261.4,173.3 261.8,173.7 262.3,173.6 262.7,174.0 263.2,173.8 263.6,173.6 264.1,173.5 264.5,173.0 265.0,173.3 265.4,173.3 265.9,173.0 266.3,173.0 266.8,173.3 267.2,173.0 267.7,173.5 268.1,173.2 268.6,174.0 269.0,173.6 269.5,173.4 269.9,173.3 270.4,173.3 270.8,173.0 271.3,174.0 271.7,173.9 272.2,173.6 272.6,173.6 273.1,173.0 273.5,173.5 274.0,173.0 274.4,173.2 274.9,173.5 274.9,173.2 275.3,132.0 275.9,132.0 276.2,168.4 277.7,172.6 277.6,173.1 278.1,173.7 278.5,173.4 279.0,173.9 279.4,173.0 279.9,172.9 280.3,174.0 280.8,173.6 281.2,173.7 281.7,173.5 282.1,173.0 282.6,174.0 283.0,173.4 283.5,173.9 283.9,173.0 284.4,173.2 284.8,173.5 285.3,173.1 285.7,173.9 286.2,173.2 286.6,173.0 287.1,173.1 287.5,173.2 288.0,174.0 288.4,173.9 288.9,173.7 289.3,173.4 289.8,172.9 290.2,173.9 290.7,173.0 291.1,173.1 291.6,173.4 292.0,173.9 292.5,173.1 292.9,173.0 293.4,174.0 293.8,172.9 294.3,173.8 294.7,173.1 295.2,173.2 295.6,173.1 296.1,173.4 296.5,174.0 297.0,173.9 297.4,173.5 297.9,173.0 298.3,173.1 298.8,173.3 299.2,173.9 299.7,174.0 300.1,172.9 300.6,173.3 301.0,174.1 301.5,173.1 301.4,173.3 301.8,132.0 302.4,132.0 302.7,168.6 304.2,172.7 304.1,173.4 304.6,174.2 305.0,173.4 305.5,174.0 305.9,173.3 306.4,173.9 306.8,173.4 307.3,173.9 307.7,174.1 308.2,174.3 308.6,173.8 309.1,174.4 309.5,173.8 310.0,174.4 310.4,174.4 310.9,174.5 311.3,173.5 311.8,173.7 312.2,174.2 312.7,174.5 313.1,173.7 313.6,174.4 314.0,174.0 314.5,173.5 314.9,173.6 315.4,173.5 315.8,173.8 316.3,174.7 316.7,174.4 317.2,174.6 317.6,174.7 318.1,174.1 318.5,174.5 319.0,174.4 319.4,174.5 319.9,173.8 320.3,174.8 320.8,173.9 321.2,174.3 321.7,174.6 322.1,174.7 322.6,174.8 323.0,174.2 323.5,174.2 323.9,174.7 324.4,173.9 324.4,174.7 324.8,132.0 325.4,132.0 325.7,169.4 327.2,173.6 327.1,174.8 327.6,175.0 328.0,175.1 328.5,175.7 328.9,175.1 329.4,175.2 329.8,175.2 330.3,175.4 330.7,175.9 331.2,176.4 331.6,175.2 332.1,175.7 332.5,175.6 333.0,175.6 333.4,175.6 333.9,175.3 334.3,175.7 334.8,175.5 335.2,175.2 335.7,175.3 336.1,176.3 336.6,176.0 337.0,176.3 337.5,176.1 337.9,176.0 338.4,175.4 338.8,175.3 339.3,176.3 339.7,176.0 340.2,176.0 340.6,175.3 341.1,176.1 341.5,175.8 342.0,175.2 342.4,175.4 342.9,176.3 343.3,175.9 343.8,175.2 344.2,175.2 344.7,176.0 345.1,175.5 345.6,175.7 346.0,175.2 346.5,175.3 346.9,175.7 347.4,175.6 347.8,175.3 348.3,175.2 348.7,175.6 349.2,175.2 349.6,175.1 350.1,175.6 350.5,175.1 351.0,175.9 351.4,176.0 351.9,175.9 352.3,176.2 352.1,175.4 352.5,132.0 353.1,132.0 353.4,170.4 354.9,174.8 354.8,175.5 355.3,175.5 355.7,175.1 356.2,176.0 356.6,175.1 357.1,176.2 357.5,175.8 358.0,176.2 358.4,175.1 358.9,176.1 359.3,176.1 359.8,175.9 360.2,175.7 360.7,175.8 361.1,175.6 361.6,176.0 362.0,175.7 362.5,175.6 362.9,175.5 363.4,175.7 363.8,175.7 364.3,176.1 364.7,175.9 365.2,175.3 365.6,175.8 366.1,175.2 366.5,175.5 367.0,175.6 367.4,175.8 367.9,175.0 368.3,175.1 368.8,175.1 369.2,175.7 369.7,175.1 370.1,175.6 370.6,176.0 371.0,175.4 371.5,175.2 371.9,175.6 372.4,175.4 372.3,175.5 372.7,132.0 373.3,132.0 373.6,170.3 375.1,174.6 375.0,175.1 375.5,175.7 375.9,175.3 376.4,176.1 376.8,175.5 377.3,175.7 377.7,176.0 378.2,176.0 378.6,174.9 379.1,176.0 379.5,175.0 380.0,176.0 380.4,175.8 380.9,175.1 381.3,175.7 381.8,175.5 382.2,175.4 382.7,175.6 383.1,175.4 383.6,175.6 384.0,175.6 384.5,174.8 384.9,175.6 385.4,175.7 385.8,175.8 386.3,175.4 386.7,175.4 387.2,175.0 387.6,175.0 388.1,175.9 388.5,174.9 389.0,175.9 389.4,174.9 389.9,175.2 390.3,175.5 390.8,174.8 391.2,175.3 391.7,175.7 392.1,175.2 392.6,175.0 393.0,174.8 393.5,175.9 393.9,174.9 394.4,175.5 394.8,175.5 395.3,175.1 395.7,175.4 396.2,175.6 396.6,175.0 397.1,175.0 397.0,175.6 397.4,146.5 398.0,146.5 398.3,171.9 399.8,174.7 399.7,175.0 400.2,175.3 400.6,175.3 401.1,175.6 401.5,175.7 402.0,175.6 402.4,175.5 402.9,175.4 403.3,174.8 403.8,175.4 404.2,175.3 404.7,175.7 405.1,175.2 405.6,174.9 406.0,175.2 406.5,175.8 406.9,175.4 407.4,175.6 407.8,174.8 408.3,175.0 408.7,175.1 409.2,175.4 409.6,174.9 410.1,175.9 410.5,175.2 411.0,174.8 411.4,175.1 411.9,175.4 412.3,175.6 412.8,175.8 413.2,174.9 413.7,176.0 414.1,175.9 414.6,175.5 415.0,175.6 415.5,175.2 415.9,175.0 416.4,174.9 416.8,176.0 417.3,175.9 417.7,175.4 418.2,175.6 418.6,175.5 419.1,175.7 418.8,175.3 419.1,139.8 419.7,139.8 420.0,171.2 421.5,174.8 421.4,175.8 421.9,175.1 422.3,175.6 422.8,175.7 423.2,175.9 423.7,175.7 424.1,175.2 424.6,175.9 425.0,175.4 425.5,175.6 425.9,175.9 426.4,176.1 426.8,175.1 427.3,175.5 427.7,175.4 428.2,176.0 428.6,175.5 429.1,176.1 429.5,175.9 430.0,175.5 430.4,175.9 430.9,175.8 431.3,175.2 431.8,175.4 432.2,175.2 432.7,176.0 433.1,175.5 433.6,175.4 434.0,175.9 434.5,176.2 434.9,175.2 435.4,175.9 435.8,175.3 436.3,176.0 436.7,176.0 437.2,176.0 437.6,175.8 438.1,175.2 438.5,176.1 439.0,175.2 439.4,175.8 439.9,176.2 440.3,175.4 440.0,175.7 440.4,132.0 441.0,132.0 441.3,170.5 442.8,174.8 442.7,175.9 443.2,175.9 443.6,175.5 444.1,175.6 444.5,176.2 445.0,176.0 445.4,175.4 445.9,176.0 446.3,176.2 446.8,175.9 447.2,176.2 447.7,175.5 448.1,175.5 448.6,176.2 449.0,175.5 449.5,175.3 449.9,175.4 450.4,176.3 450.8,176.2 451.3,175.5 451.7,176.1 452.2,175.5 452.6,176.0 453.1,175.2 453.5,175.9 454.0,176.1 454.4,175.9 454.9,176.0 455.3,175.4 455.8,175.8 456.2,176.2 456.7,175.7 457.1,176.2 457.6,176.0 458.0,176.3 458.5,176.2 458.9,175.7 459.4,176.3 459.8,176.3 460.3,175.8 460.7,176.2 461.2,175.8 461.6,176.0 461.6,175.8 462.0,132.0 462.6,132.0 462.9,170.6 464.4,175.0 464.3,175.9 464.8,175.7 465.2,176.4 465.7,176.1 466.1,176.1 466.6,176.0 467.0,175.9 467.5,175.6 467.9,176.2 468.4,175.9 468.8,175.8 469.3,176.0 469.7,175.6 470.2,176.2 470.6,176.4 471.1,175.9 471.5,175.6 472.0,176.6 472.4,176.2 472.9,175.9 473.3,175.6 473.8,176.2 474.2,175.8 474.7,176.6 475.1,176.4 475.6,175.9 476.0,176.1 476.5,175.7 476.9,175.9 477.4,176.3 477.8,176.7 478.3,176.2" fill="none" stroke="#f00" stroke-width="1.6" stroke-linejoin="round" clip-path="url(#cd)"/>
<polyline points="70.0,211.5 70.4,213.4 70.8,213.3 71.2,214.0 71.6,210.9 72.0,211.0 72.4,210.6 72.8,210.9 73.2,213.2 73.2,211.2 73.5,204.4 73.8,205.5 74.1,211.7 75.3,211.9 75.7,210.4 76.1,210.7 76.5,211.2 76.9,213.0 77.3,211.9 77.7,209.1 78.1,210.3 78.5,209.6 78.9,212.9 79.3,212.5 79.7,212.5 80.1,212.5 80.5,212.0 80.9,212.9 81.3,212.1 81.7,209.5 82.1,212.2 82.5,210.4 82.9,211.6 83.3,210.6 83.7,209.9 84.1,209.6 84.5,209.8 84.9,209.2 85.3,208.2 85.7,211.4 86.1,211.2 86.5,212.0 86.9,210.6 87.3,209.9 87.7,210.8 88.1,207.8 88.5,210.0 88.6,208.7 88.9,185.7 89.2,189.2 89.5,207.6 90.7,206.3 91.1,206.4 91.5,207.9 91.9,206.7 92.3,207.6 92.7,208.3 93.1,207.3 93.5,206.1 93.9,207.8 94.3,206.6 94.7,206.6 95.1,206.4 95.5,207.2 95.9,205.8 96.3,208.5 96.7,209.9 97.1,207.3 97.5,208.8 97.9,209.8 98.3,205.7 98.7,206.2 99.1,209.2 99.5,209.4 99.9,208.4 100.3,206.2 100.7,207.4 101.1,209.5 101.5,209.6 101.9,209.2 102.3,206.4 102.7,209.4 103.1,207.2 103.5,208.8 103.9,206.2 104.3,210.0 104.7,208.3 105.1,208.9 105.0,207.2 105.3,190.9 105.6,193.4 105.9,207.0 107.1,208.4 107.5,208.2 107.9,208.3 108.3,207.2 108.7,208.9 109.1,207.1 109.5,206.9 109.9,206.3 110.3,208.7 110.7,206.1 111.1,206.6 111.5,205.9 111.9,208.5 112.3,208.1 112.7,208.1 113.1,205.8 113.5,207.6 113.9,207.2 114.3,206.0 114.7,205.6 115.1,210.2 115.5,206.1 115.9,207.0 116.3,206.8 116.7,208.3 117.1,206.0 117.5,207.8 117.9,207.3 118.3,209.4 118.7,205.6 119.1,207.1 119.5,207.9 119.9,210.1 120.3,208.0 120.2,207.9 120.5,202.1 120.8,203.0 121.1,207.6 122.3,208.7 122.7,207.0 123.1,205.8 123.5,207.9 123.9,209.8 124.3,209.0 124.7,206.8 125.1,208.8 125.5,209.5 125.9,206.8 126.3,208.4 126.7,207.3 127.1,206.8 127.5,207.0 127.9,206.6 128.3,207.3 128.7,205.8 129.1,207.5 129.5,206.1 129.9,209.2 130.3,208.4 130.1,206.8 130.4,201.0 130.7,202.0 131.0,207.6 132.2,209.2 132.6,206.6 133.0,207.9 133.4,208.2 133.8,207.2 134.2,207.0 134.6,207.7 135.0,206.3 135.4,209.7 135.8,206.2 136.2,209.5 136.6,206.7 137.0,207.1 137.4,207.5 137.8,205.9 138.2,206.3 138.6,207.4 139.0,207.8 139.4,209.8 139.8,210.3 140.2,206.0 140.6,208.3 141.0,206.4 141.4,209.5 141.8,207.3 142.2,210.0 142.6,208.4 142.3,207.3 142.7,199.1 143.0,200.5 143.3,207.7 144.5,205.9 144.9,207.1 145.3,209.9 145.7,206.6 146.1,208.1 146.5,207.7 146.9,207.5 147.3,209.7 147.7,207.0 148.1,209.3 148.5,209.1 148.9,210.3 149.3,208.4 149.7,210.3 150.1,208.1 150.5,208.7 150.9,208.9 151.3,209.9 151.7,210.2 152.1,206.6 152.5,206.7 152.9,208.6 153.3,209.8 153.7,208.6 154.1,207.5 154.5,210.6 154.9,207.5 155.3,206.6 155.7,206.4 156.1,206.3 156.5,209.5 156.9,206.7 157.3,209.5 157.7,210.2 158.1,210.8 158.5,210.0 158.9,208.2 159.3,209.1 159.7,210.1 160.1,209.6 160.5,207.6 160.9,209.8 161.3,206.8 161.7,207.7 162.1,210.9 162.5,208.5 162.9,207.6 163.3,210.0 163.7,208.4 164.1,206.4 164.5,206.5 164.9,207.6 165.3,207.9 165.7,210.7 166.1,207.5 166.5,210.3 166.9,210.4 167.3,208.4 167.7,211.0 168.1,210.0 168.5,208.7 168.9,207.7 168.8,208.7 169.1,199.1 169.4,200.6 169.7,208.3 170.9,210.7 171.3,209.0 171.7,207.4 172.1,208.3 172.5,208.7 172.9,207.4 173.3,209.2 173.7,206.7 174.1,210.3 174.5,207.4 174.9,207.0 175.3,209.3 175.7,208.0 176.1,210.6 176.5,208.9 176.9,209.0 177.3,210.4 177.7,207.6 178.1,210.0 178.5,209.6 178.9,208.6 179.3,211.0 179.7,206.7 180.1,210.6 180.5,207.3 180.9,210.5 181.3,207.3 181.7,206.9 182.1,208.9 182.5,210.9 182.9,207.8 183.3,208.9 183.7,209.4 184.1,207.8 184.5,209.1 184.9,206.7 185.3,208.7 185.7,210.2 186.1,208.2 186.5,207.7 186.9,206.9 187.3,209.9 187.7,208.7 188.1,210.9 188.5,210.1 188.9,207.2 189.3,210.9 189.7,211.0 190.1,210.5 190.5,210.6 190.9,209.9 191.3,210.1 191.7,209.8 192.1,209.5 192.5,207.9 192.3,208.2 192.7,201.4 193.0,202.5 193.3,208.7 194.5,210.1 194.9,209.5 195.3,207.0 195.7,209.7 196.1,209.6 196.5,209.1 196.9,210.4 197.3,210.8 197.7,208.6 198.1,210.6 198.5,209.1 198.9,209.5 199.3,208.7 199.7,211.1 200.1,208.9 200.5,211.2 200.9,208.4 201.3,209.9 201.7,211.1 202.1,210.0 202.5,208.6 202.9,207.2 203.3,209.1 203.7,208.8 204.1,210.6 204.5,210.5 204.9,211.4 205.3,209.0 205.7,208.8 206.1,209.5 206.5,210.4 206.9,207.3 207.3,207.9 207.7,207.6 208.1,208.4 208.5,208.3 208.9,211.4 209.3,207.9 209.7,211.2 210.1,208.3 210.5,207.9 210.9,211.4 211.3,207.4 211.7,207.5 212.1,207.6 212.5,207.3 212.9,208.8 213.3,208.0 213.7,207.7 214.1,207.1 214.5,210.2 214.9,207.2 215.3,208.1 215.7,209.6 216.1,211.1 216.5,210.1 216.9,210.3 217.3,210.3 217.7,210.7 218.1,211.0 218.5,207.8 218.9,207.3 219.3,209.9 219.7,209.5 220.1,209.5 220.5,210.7 220.9,207.9 221.3,210.4 221.7,209.1 222.1,209.1 222.5,208.3 222.9,208.4 223.3,209.8 223.7,209.7 224.1,211.3 224.5,208.4 224.9,210.4 225.3,207.6 225.7,210.2 226.1,207.9 226.5,211.1 226.9,211.6 227.3,208.4 227.7,210.9 228.1,208.2 228.5,208.6 228.9,207.7 229.3,209.2 229.7,207.7 230.1,210.5 230.5,209.9 230.9,209.2 231.3,210.5 231.7,208.3 232.1,208.8 232.5,208.9 232.9,207.3 233.3,211.4 233.7,207.7 234.1,207.7 234.5,211.0 234.9,211.1 235.3,209.4 235.7,209.2 236.1,208.0 236.5,207.3 236.9,209.7 237.3,208.4 237.7,208.0 238.1,211.5 238.5,207.4 238.9,209.0 239.3,210.8 239.7,210.8 240.1,207.9 240.5,210.8 240.9,210.0 241.3,210.3 241.7,211.7 242.1,211.1 242.5,210.2 242.9,210.9 243.3,209.7 243.7,210.0 244.1,211.2 244.5,210.3 244.9,209.2 245.3,207.5 245.7,211.1 246.1,209.0 246.5,209.4 246.9,208.8 247.3,210.0 247.7,209.3 248.1,211.3 248.5,210.2 248.9,210.1 249.3,211.1 249.7,209.5 250.1,210.0 250.5,211.0 250.9,210.8 251.3,211.0 251.7,211.6 252.1,210.1 252.5,210.1 252.9,208.4 253.3,208.7 253.7,209.6 254.1,209.9 254.5,211.7 254.9,207.8 255.3,209.2 255.7,211.0 256.1,209.8 256.5,211.6 256.9,208.4 257.3,211.2 257.7,209.7 258.1,210.3 258.5,208.0 258.9,209.6 259.3,211.4 259.7,211.1 260.1,210.3 260.5,209.7 260.9,208.0 261.3,211.0 261.7,209.8 262.1,211.1 262.5,210.6 262.9,209.7 263.3,211.9 263.7,208.5 264.1,212.3 264.5,208.3 264.9,212.3 265.3,210.6 265.7,210.0 266.1,212.2 266.5,210.3 266.9,210.3 267.3,208.2 267.7,211.6 268.1,210.9 268.5,209.1 268.9,208.5 269.3,209.9 269.7,212.3 270.1,212.0 270.5,210.1 270.9,208.2 271.3,211.8 271.7,200.4 272.1,185.6 272.5,176.0 272.9,178.1 273.3,174.4 273.7,177.4 274.1,177.0 274.5,173.8 274.9,176.3 275.3,175.1 275.7,176.9 276.1,178.1 276.5,176.8 276.9,178.2 277.3,183.2 277.7,186.0 278.1,191.5 278.5,194.4 278.9,200.5 279.3,199.7 279.7,204.0 280.1,204.6 280.5,207.0 280.9,204.9 281.3,205.0 281.7,207.9 282.1,208.6 282.5,209.5 282.9,208.8 283.3,210.4 283.7,206.5 284.1,208.9 284.5,209.0 284.9,207.0 285.3,207.0 285.7,207.5 286.1,209.0 286.5,210.6 286.9,210.6 287.3,210.4 287.7,208.5 288.1,211.8 288.5,211.2 288.9,210.0 289.3,212.5 289.7,211.1 290.1,211.7 290.5,212.3 290.9,213.7 291.3,210.7 291.7,212.2 292.1,211.2 292.5,213.2 292.9,213.8 293.3,211.3 293.7,213.3 294.1,212.1 294.5,210.9 294.9,211.2 295.3,212.4 295.7,213.6 296.1,212.6 296.5,209.8 296.9,213.3 297.3,212.4 297.7,211.6 298.1,210.8 298.5,211.6 298.9,212.8 299.3,210.8 299.7,210.2 300.1,213.5 300.5,211.6 300.9,209.9 301.3,213.6 301.7,210.1 302.1,211.3 302.5,212.4 302.9,212.7 303.3,213.8 303.7,210.5 304.1,212.3 304.5,213.7 304.9,211.8 305.3,213.0 305.7,211.9 306.1,213.0 306.5,214.2 306.9,211.3 307.3,213.2 307.7,211.4 308.1,213.9 308.5,213.4 308.9,213.8 309.3,213.9 309.7,212.6 310.1,214.3 310.5,210.6 310.9,212.6 311.3,210.3 311.7,212.7 312.1,213.1 312.5,211.3 312.9,213.8 313.3,212.0 313.7,211.0 314.1,211.0 314.5,212.7 314.9,211.9 315.3,210.3 315.7,211.5 316.1,214.6 316.5,212.3 316.9,213.3 317.3,212.2 317.7,210.5 318.1,213.0 318.5,211.2 318.9,210.8 319.3,213.1 319.7,213.4 320.1,210.4 320.5,214.7 320.9,210.4 321.3,211.1 321.7,211.9 322.1,214.1 322.5,213.8 322.9,213.8 323.3,212.4 323.7,214.7 324.1,211.1 324.5,214.9 324.9,210.7 325.3,211.2 325.7,214.0 326.1,214.1 326.0,213.3 326.4,206.6 326.7,207.5 327.0,212.6 328.2,211.8 328.6,214.7 329.0,213.1 329.4,211.7 329.8,211.2 330.2,215.3 330.6,211.0 330.5,212.4 330.9,208.8 331.2,209.4 331.5,212.9 332.7,212.5 333.1,215.0 333.5,214.7 333.9,214.8 334.3,213.8 334.7,211.0 335.1,214.4 335.5,211.9 335.9,215.4 336.3,215.5 336.7,211.3 337.1,214.4 337.5,212.1 337.9,211.5 338.3,215.1 338.7,213.1 339.1,212.4 339.5,213.7 339.9,211.4 340.3,213.0 340.7,214.1 341.1,215.1 341.5,211.7 341.9,215.2 342.3,211.6 342.7,212.1 343.1,212.7 343.5,211.9 343.9,211.6 344.3,214.2 344.7,213.0 345.1,212.1 345.5,213.6 345.9,211.8 346.3,214.4 346.7,215.7 347.1,213.4 347.5,213.2 347.9,213.1 348.3,213.0 348.7,213.2 349.1,212.1 349.5,212.7 349.9,214.5 350.3,213.5 350.7,211.6 351.1,212.0 351.5,215.2 351.9,213.0 352.3,215.2 352.7,214.2 353.1,214.3 353.5,213.0 353.9,214.1 354.3,213.3 354.7,213.8 355.1,215.8 355.5,211.9 355.9,212.4 356.3,215.6 356.7,215.7 357.1,215.2 357.5,215.4 357.9,212.0 358.3,214.8 358.7,212.1 359.1,215.4 359.5,213.4 359.9,213.8 360.3,213.9 360.7,212.5 361.1,214.2 361.5,215.5 361.9,213.7 362.3,213.6 362.7,213.3 363.1,212.5 363.5,212.9 363.9,215.5 364.3,216.1 364.7,213.4 365.1,213.0 365.5,213.2 365.9,215.7 366.3,212.9 366.7,212.5 367.1,213.2 367.5,212.1 367.9,212.4 368.3,212.8 368.7,214.7 369.1,216.0 369.5,213.0 369.9,213.1 370.3,214.5 370.7,211.9 371.1,212.2 371.5,214.4 371.9,214.0 372.3,213.4 372.7,213.7 373.1,211.9 373.5,213.0 373.9,212.7 374.3,213.0 374.7,212.2 375.1,215.6 375.5,212.0 375.9,213.8 376.3,212.7 376.7,212.9 377.1,215.4 377.5,216.4 377.9,216.4 378.3,213.5 378.7,214.5 379.1,214.0 379.5,212.4 379.9,213.9 380.3,214.8 380.7,213.8 381.1,215.6 381.5,214.1 381.9,213.4 382.3,216.1 382.7,214.6 383.1,213.2 383.5,216.2 383.9,214.2 384.3,214.8 384.7,214.2 385.1,216.0 385.5,215.4 385.9,214.0 386.3,213.7 386.7,215.6 387.1,215.9 387.5,214.8 387.9,216.0 388.3,214.4 388.7,213.9 389.1,213.5 389.5,213.2 389.9,212.7 390.3,216.2 390.7,214.5 391.1,212.4 391.5,213.0 391.9,214.0 392.3,215.7 392.7,215.9 393.1,215.5 393.5,213.3 393.9,214.0 394.3,216.4 394.7,213.8 395.1,215.0 395.5,212.2 395.9,214.2 396.3,214.3 396.7,216.2 397.1,216.4 397.5,215.5 397.9,213.5 398.3,216.0 398.7,216.2 399.1,212.4 399.5,214.0 399.9,214.5 400.3,213.4 400.7,213.1 401.1,215.6 401.5,213.0 401.9,214.5 402.3,212.1 402.7,214.1 403.1,216.4 403.5,212.0 403.9,212.5 404.3,216.1 404.7,216.2 405.1,214.3 405.5,213.4 405.9,213.4 406.3,215.4 406.7,214.7 407.1,214.1 407.5,215.2 407.9,212.5 408.3,213.8 408.7,216.0 409.1,216.2 409.5,214.2 409.9,215.6 410.3,216.1 410.7,214.4 411.1,212.7 411.5,212.5 411.9,215.1 412.3,213.6 412.7,214.4 413.1,212.2 413.5,216.4 413.9,213.3 414.3,214.9 414.7,214.9 415.1,213.6 415.5,213.0 415.9,214.6 416.3,213.5 416.7,212.4 417.1,212.8 417.5,212.2 417.9,216.1 418.3,212.9 418.7,216.2 419.1,214.8 419.5,216.4 419.9,214.2 420.3,213.1 420.7,212.3 421.1,214.7 421.5,215.0 421.9,214.8 422.3,215.8 422.7,212.0 423.1,214.5 423.5,214.7 423.9,215.7 424.3,212.4 424.7,215.5 425.1,211.3 425.5,213.8 425.9,212.5 426.3,213.3 426.7,211.7 427.1,212.6 427.5,212.4 427.9,212.8 428.3,212.5 428.7,211.6 429.1,211.3 429.5,212.6 429.9,214.9 430.3,214.2 430.7,210.9 431.1,213.1 431.5,210.8 431.9,211.5 432.3,214.6 432.7,211.5 433.1,210.3 433.5,212.4 433.9,212.4 434.3,212.0 434.7,213.9 435.1,211.9 435.5,211.1 435.9,210.3 436.3,212.0 436.7,212.7 437.1,211.5 437.5,210.9 437.9,210.2 438.3,212.9 438.7,213.5 439.1,211.5 439.5,212.1 439.9,210.2 440.3,209.4 440.7,208.9 441.1,211.4 441.5,212.7 441.9,211.6 442.3,211.4 442.7,212.2 443.1,210.1 443.5,210.1 443.9,209.3 444.3,211.9 444.7,211.2 445.1,210.3 445.5,211.4 445.9,212.0 446.3,207.9 446.7,208.7 447.1,209.8 447.5,210.8 447.9,208.6 448.3,209.5 448.7,210.4 449.1,208.7 449.5,210.3 449.9,207.5 450.3,209.0 450.7,210.0 451.1,211.0 451.5,209.3 451.9,209.9 452.3,209.9 452.7,209.7 453.1,208.8 453.5,208.1 453.9,207.2 454.3,210.6 454.7,210.0 455.1,209.4 455.5,209.9 455.9,207.9 456.3,207.3 456.7,209.0 457.1,208.7 457.5,209.6 457.9,210.6 458.3,208.5 458.7,208.4 459.1,210.0 459.5,210.8 459.9,209.4 460.3,209.6 460.7,211.0 461.1,211.1 461.5,207.1 461.9,211.4 462.3,207.4 462.7,209.6 463.1,209.3 463.5,211.6 463.9,208.2 464.3,207.3 464.7,211.6 465.1,209.3 465.5,209.2 465.9,208.9 466.3,208.1 466.7,206.8 467.1,209.2 467.5,207.5 467.9,208.7 468.3,210.8 468.7,210.7 469.1,207.4 469.5,207.5 469.9,206.4 470.3,208.5 470.7,206.4 471.1,206.0 471.5,209.6 471.9,207.8 472.3,209.1 472.7,205.8 473.1,205.4 473.5,207.0 473.9,207.3 474.3,204.7 474.7,206.0 475.1,206.1 475.5,205.9 475.9,205.1 476.3,205.7 476.7,204.2 477.1,204.2 477.5,204.1 477.9,207.7 478.3,205.1 478.7,207.1 479.1,204.6 479.5,208.2 479.9,204.3 480.3,207.8 480.7,206.4 481.1,208.0 481.5,207.8 481.9,203.7 482.3,203.7 482.7,204.5 483.1,203.5 483.5,207.1 483.9,203.7 484.3,206.0 484.7,207.1 485.1,205.9 485.5,207.1 485.9,205.4 486.3,204.1 486.7,206.7 487.1,203.1 487.5,204.5 487.9,203.7 488.3,204.2 488.7,203.0 489.1,205.9 489.5,205.9 489.9,204.4 490.3,203.3 490.7,205.2 491.1,205.0 491.5,200.7 491.9,204.3 492.3,200.5 492.7,200.3 493.1,200.8 493.5,201.2 493.9,201.5 494.3,203.4 494.7,199.5 495.1,201.5 495.5,200.3 495.9,197.9 496.3,201.3 496.7,200.4 497.1,197.4 497.5,200.4 497.9,199.0 498.3,200.5 498.7,202.2 499.1,201.4 499.5,200.7 499.9,199.8 500.3,201.9 500.7,202.6 501.1,201.3 501.5,202.8 501.9,200.3 502.3,201.6 502.7,202.7 503.1,202.8 503.5,204.0 503.9,201.9 504.3,202.3 504.7,204.5 505.1,202.4 505.5,201.5 505.9,203.4 506.3,201.9 506.7,202.7 507.1,204.2 507.5,203.9 507.9,202.8 508.3,203.4 508.7,202.3 509.1,200.0 509.5,202.3 509.9,198.3 510.3,198.2 510.7,198.9 511.1,196.5 511.5,198.1 511.9,197.2 512.3,195.0 512.7,196.9 513.1,193.2 513.5,194.4" fill="none" stroke="#0f0" stroke-width="1.8" stroke-linejoin="round" clip-path="url(#ce)"/>
<polyline points="70.0,253.3 70.4,255.6 70.8,255.5 71.2,256.7 71.6,254.2 71.7,254.7 72.0,251.0 72.4,254.9 73.6,256.3 74.0,256.0 74.4,254.8 74.8,256.3 75.2,255.3 75.6,256.8 76.0,254.4 76.4,254.9 76.8,257.5 77.2,255.6 77.6,255.3 78.0,257.5 78.4,257.5 78.8,256.4 79.2,258.7 79.6,258.4 80.0,251.5 80.4,248.4 80.8,244.7 81.2,244.8 81.6,243.2 82.0,243.0 82.4,245.8 82.8,243.9 83.2,246.4 83.6,244.6 84.0,245.6 84.4,246.9 84.8,246.5 85.2,244.5 85.6,246.5 86.0,246.8 86.4,245.3 86.8,245.2 87.2,248.3 87.6,247.1 88.0,246.1 88.4,247.2 88.8,246.5 89.2,248.9 89.6,247.9 90.0,246.6 89.8,248.7 90.1,239.1 90.4,240.5 90.7,247.7 91.9,246.8 92.3,247.6 92.7,246.7 93.1,249.5 93.5,247.2 93.9,248.8 94.3,247.2 94.7,248.7 95.1,249.6 95.5,249.1 95.9,248.8 96.3,249.0 96.7,248.9 97.1,249.5 97.5,247.7 97.9,249.2 98.3,248.3 98.7,250.8 99.1,251.1 99.5,247.9 99.9,248.2 100.3,250.4 100.7,250.0 101.1,247.9 101.5,250.6 101.9,251.6 102.3,249.7 102.7,249.4 103.1,250.3 103.5,251.8 103.9,249.3 104.3,249.5 104.7,249.1 105.1,250.9 105.0,250.3 105.3,243.6 105.6,244.6 105.9,250.1 107.1,249.7 107.5,250.3 107.9,249.0 108.3,250.1 108.7,252.7 109.1,251.3 109.5,250.2 109.9,252.7 110.3,250.6 110.7,250.2 111.1,249.3 111.5,249.8 111.9,250.0 112.3,250.1 112.7,252.5 113.1,250.2 113.5,250.1 113.9,251.5 114.3,252.7 114.7,250.3 115.1,252.1 115.5,250.6 115.9,251.3 116.3,251.5 116.7,252.8 117.1,252.1 117.5,251.1 117.9,252.4 118.3,250.6 118.7,250.7 119.1,252.8 119.5,251.3 119.9,252.1 120.3,250.4 120.7,252.7 121.1,251.9 121.5,252.2 121.9,256.5 122.3,256.4 122.7,253.4 123.1,250.6 123.5,247.5 123.9,245.4 124.3,246.8 124.7,244.9 125.1,245.5 125.5,246.5 125.9,247.0 126.3,246.6 126.7,248.3 127.1,246.5 127.5,247.2 127.9,247.6 128.3,246.6 128.7,247.2 129.1,247.1 128.8,248.9 129.2,236.2 129.5,238.0 129.8,247.9 131.0,247.7 131.4,249.7 131.8,248.1 132.2,249.8 132.6,249.9 133.0,248.8 133.4,251.0 133.8,250.0 134.2,249.7 134.6,247.8 135.0,249.2 135.4,248.8 135.8,249.6 136.2,251.4 136.6,251.2 137.0,248.2 137.4,250.6 137.8,251.6 138.2,250.2 138.6,248.5 139.0,251.4 139.4,249.8 139.8,251.9 140.2,251.5 140.6,251.4 141.0,251.8 141.4,248.5 141.8,251.3 142.2,249.5 142.6,248.8 143.0,249.8 143.4,250.6 143.8,248.4 144.2,250.1 144.6,251.4 145.0,250.3 145.4,250.5 145.8,249.6 146.2,252.2 146.6,249.4 147.0,251.1 147.4,251.0 147.8,248.6 148.2,252.4 148.6,249.5 149.0,252.4 149.4,252.2 149.8,252.1 150.2,251.9 150.6,250.2 151.0,250.4 151.4,250.0 151.8,252.3 152.2,248.9 152.6,249.3 153.0,252.4 153.4,251.9 153.8,251.5 153.6,251.6 153.9,239.1 154.2,240.8 154.5,250.2 155.7,250.9 156.1,252.1 156.5,250.7 156.9,252.4 157.3,249.3 157.7,250.7 158.1,251.2 158.5,252.1 158.9,250.7 159.3,251.7 159.7,252.8 160.1,250.7 160.5,249.9 160.9,249.3 161.3,252.5 161.7,251.0 162.1,250.7 162.5,251.2 162.9,249.7 163.3,250.1 163.7,250.2 164.1,250.3 164.5,252.6 164.9,250.3 165.3,249.7 165.7,252.7 166.1,251.5 166.5,249.5 166.9,252.0 167.3,252.1 167.7,252.0 168.1,252.5 168.5,251.1 168.9,250.4 169.3,252.4 169.7,252.0 170.1,252.3 170.5,250.3 170.9,251.1 171.3,252.3 171.7,251.1 172.1,252.0 172.5,251.5 172.9,252.6 173.3,251.1 173.7,251.7 174.1,253.0 174.5,251.0 174.9,250.5 175.3,252.3 175.7,250.4 176.1,253.2 176.0,251.4 176.3,237.7 176.6,239.8 176.9,251.1 178.1,253.4 178.5,252.1 178.9,250.6 179.3,252.0 179.7,252.7 180.1,252.0 180.5,252.5 180.9,251.5 181.3,253.8 181.7,250.8 182.1,253.2 182.5,250.3 182.9,252.2 183.3,250.5 183.7,250.8 184.1,252.5 184.5,253.8 184.9,251.5 185.3,251.9 185.7,252.2 186.1,252.7 186.5,251.8 186.9,251.8 187.3,253.7 187.7,252.6 188.1,251.8 188.5,253.6 188.9,254.3 189.3,252.2 189.7,250.6 190.1,251.8 190.5,254.0 190.9,251.3 191.3,251.4 191.7,253.7 192.1,251.1 192.5,254.0 192.9,251.6 193.3,252.2 193.7,253.0 194.1,251.2 194.5,253.8 194.9,252.5 195.3,253.8 195.7,253.8 196.1,251.2 196.5,254.1 196.9,254.1 197.3,251.9 197.7,253.2 198.1,251.8 198.5,253.1 198.9,253.9 199.3,252.5 199.7,253.1 200.1,251.6 200.5,254.4 200.9,253.5 201.3,254.3 201.7,251.5 202.1,254.0 202.5,251.6 202.9,253.4 203.3,252.1 203.7,254.7 204.1,251.7 204.5,253.1 204.9,253.1 205.3,252.8 205.7,251.6 206.1,253.9 206.5,255.1 206.9,252.8 207.3,254.9 207.7,252.8 208.1,252.6 208.5,253.3 208.9,255.3 209.3,254.6 209.7,254.1 210.1,251.9 210.5,253.5 210.9,251.8 211.3,252.1 211.7,253.3 212.1,252.8 212.5,252.3 212.9,253.9 213.3,254.9 213.7,255.5 214.1,255.5 214.5,253.7 214.9,252.8 215.3,255.8 215.7,253.8 216.1,253.5 216.5,255.4 216.9,254.4 217.3,255.9 217.7,255.0 218.1,255.9 218.5,253.0 218.9,256.0 219.3,254.5 219.7,255.1 220.1,253.7 220.5,253.5 220.9,253.7 221.3,253.3 221.7,256.3 222.1,253.1 222.5,253.6 222.9,255.1 223.3,253.5 223.7,253.6 224.1,253.8 224.5,253.8 224.9,252.9 225.3,255.7 225.7,255.4 226.1,254.0 226.5,256.2 226.9,254.9 227.3,253.6 227.7,256.4 228.1,253.6 228.5,255.8 228.9,255.8 229.3,252.7 229.7,255.9 230.1,254.2 230.5,254.5 230.9,256.2 231.3,254.3 231.7,253.5 232.1,252.7 232.5,255.9 232.9,254.2 233.3,255.2 233.7,254.9 234.1,256.1 234.5,256.0 234.9,255.9 235.3,254.3 235.7,255.8 236.1,253.5 236.5,252.8 236.9,254.7 237.3,252.4 237.7,255.9 238.1,253.4 238.5,253.8 238.9,253.3 239.3,253.4 239.7,254.2 240.1,255.1 240.5,251.9 240.9,252.9 241.3,252.3 241.7,254.8 242.1,252.6 242.5,252.5 242.9,254.1 243.3,251.8 243.7,251.6 244.1,251.4 244.5,250.6 244.9,252.2 245.3,250.4 245.7,251.0 246.1,251.1 246.5,252.2 246.9,252.4 247.3,251.7 247.7,253.8 248.1,254.0 248.5,254.3 248.9,253.7 249.3,250.2 249.7,246.4 250.1,244.8 250.5,239.9 250.9,234.1 251.3,228.6 251.7,232.5 252.1,232.5 252.5,228.3 252.9,223.1 253.3,223.6 253.7,226.5 254.1,231.1 254.5,235.4 254.9,237.8 255.3,240.3 255.7,247.3 256.1,247.4 256.5,249.5 256.9,252.2 257.3,252.6 257.7,252.4 258.1,254.1 258.5,251.7 258.9,251.5 259.3,252.7 259.7,255.4 260.1,252.3 260.5,253.3 260.9,254.0 261.3,252.9 261.7,255.4 262.1,252.5 262.5,252.5 262.9,255.9 263.3,252.2 263.7,253.0 264.1,253.7 264.5,255.5 264.9,253.5 265.3,254.4 265.3,254.7 265.7,248.9 266.3,248.9 266.6,253.5 268.1,254.0 268.0,254.6 268.4,255.4 268.8,252.3 269.2,254.3 269.6,252.4 270.0,255.5 269.8,253.3 270.2,249.6 270.8,249.6 271.1,253.6 272.6,254.1 272.5,252.7 272.9,254.0 273.3,254.7 273.7,252.4 274.1,254.8 274.5,252.8 274.9,253.6 275.3,252.5 275.7,255.2 276.1,255.6 276.5,255.4 276.9,253.7 277.3,253.4 277.7,256.1 278.1,255.6 278.5,256.2 278.9,254.1 279.3,255.9 279.7,255.2 280.1,255.6 280.5,254.6 280.9,255.6 281.3,254.6 281.7,253.7 282.1,254.5 282.5,252.9 282.9,255.3 283.3,254.1 283.7,253.5 284.1,255.9 284.5,254.9 284.9,254.1 285.3,256.4 285.7,256.5 286.1,254.6 286.5,255.0 286.9,253.0 287.3,254.4 287.7,256.8 288.1,255.0 288.5,256.9 288.9,253.2 289.3,253.2 289.7,253.4 290.1,253.4 290.5,256.1 290.9,257.0 291.3,256.1 291.7,255.5 292.1,254.7 292.5,254.7 292.9,253.8 293.3,254.8 293.7,253.8 294.1,256.5 294.5,255.4 294.9,254.9 295.3,256.7 295.7,254.6 296.1,256.8 296.5,256.2 296.9,255.9 297.3,255.8 297.7,256.0 298.1,257.0 298.5,257.4 298.9,255.8 299.3,257.3 299.7,254.6 300.1,257.2 300.5,257.1 300.9,256.2 301.3,254.2 301.7,257.1 302.1,255.2 302.5,255.1 302.9,257.4 303.3,254.2 303.7,256.3 304.1,254.7 304.5,257.2 304.9,254.7 305.3,254.3 305.7,255.8 306.1,255.7 306.5,256.9 306.9,255.1 307.3,255.1 307.7,255.2 308.1,256.2 308.5,254.6 308.9,256.2 309.3,257.2 309.7,256.7 310.1,255.1 310.5,256.0 310.9,254.5 311.3,256.0 311.7,257.1 312.1,254.2 312.5,256.7 312.9,257.8 313.3,255.4 313.7,255.5 314.1,256.9 314.5,254.9 314.9,255.4 315.3,256.7 315.7,256.4 316.1,255.1 316.5,255.2 316.9,256.3 317.3,257.8 317.7,255.3 318.1,257.1 318.5,256.6 318.9,255.6 319.3,256.1 319.7,257.7 320.1,255.0 320.5,256.7 320.9,256.5 321.3,255.1 321.7,256.3 322.1,255.4 322.5,256.3 322.9,254.9 323.3,256.9 323.7,257.8 324.1,258.1 324.5,258.4 324.9,255.8 325.3,257.9 325.7,256.2 326.1,257.6 326.5,256.7 326.9,257.8 327.3,256.5 327.7,258.6 328.1,256.8 328.5,258.1 328.9,255.7 329.3,257.8 329.7,255.9 330.1,256.7 330.5,256.6 330.9,257.7 331.3,257.4 331.7,256.2 332.1,258.8 332.5,255.4 332.9,257.1 333.3,255.8 333.7,255.7 334.1,256.1 334.5,258.9 334.9,255.4 335.3,258.1 335.7,257.6 336.1,258.6 336.5,258.7 336.9,255.9 337.3,259.0 337.7,256.0 338.1,256.0 338.5,256.4 338.9,258.2 339.3,257.8 339.7,258.2 340.1,256.4 340.5,257.3 340.9,256.7 341.3,259.0 341.7,257.5 342.1,257.9 342.5,256.9 342.9,255.6 343.3,255.4 343.7,255.8 344.1,257.7 344.5,255.6 344.9,256.6 345.3,256.0 345.7,255.2 346.1,256.0 346.5,256.4 346.9,257.9 347.3,257.3 347.7,256.0 348.1,255.4 348.5,255.1 348.9,255.5 349.3,256.1 349.7,257.7 350.1,254.2 350.5,254.6 350.9,255.3 351.3,255.9 351.7,253.9 352.1,253.7 352.5,255.6 352.9,253.5 353.3,256.5 353.7,255.9 354.1,255.0 354.5,257.0 354.9,255.0 355.3,256.8 355.7,254.3 356.1,253.9 356.5,255.4 356.9,256.1 357.3,256.8 357.7,254.9 358.1,257.3 358.5,256.0 358.9,258.6 359.3,258.3 359.7,258.4 360.1,255.8 360.5,255.9 360.9,255.8 361.3,257.4 361.7,255.9 362.1,256.3 362.5,256.0 362.9,259.6 363.3,257.6 363.7,256.9 364.1,256.5 364.5,257.0 364.9,256.4 365.3,259.1 365.7,259.6 366.1,259.2 366.5,256.4 366.9,258.5 367.3,259.4 367.7,257.7 368.1,259.2 368.5,256.3 368.9,258.3 369.3,259.2 369.7,258.0 370.1,256.8 370.5,260.1 370.9,259.6 371.3,257.6 371.7,259.3 372.1,257.2 372.5,259.0 372.9,259.4 373.3,259.0 373.7,258.4 374.1,259.9 374.5,258.3 374.9,257.1 375.3,257.4 375.7,257.4 376.1,259.9 376.5,257.1 376.9,260.6 377.3,259.1 377.7,257.1 378.1,260.5 378.5,260.6 378.9,257.7 379.3,259.0 379.7,257.7 380.1,257.4 380.5,257.1 380.9,260.2 381.3,257.7 381.7,257.6 382.1,257.5 382.5,257.9 382.9,260.4 383.3,257.6 383.7,257.5 384.1,257.0 384.5,259.5 384.9,257.2 385.3,259.9 385.7,260.3 386.1,257.8 386.5,258.5 386.9,259.8 387.3,258.6 387.7,257.9 388.1,260.2 388.5,260.5 388.9,257.6 389.3,259.9 389.7,256.8 390.1,259.8 390.5,258.0 390.9,260.5 391.3,256.8 391.7,257.5 392.1,258.2 392.5,258.6 392.9,259.6 393.3,257.2 393.7,256.9 394.1,257.6 394.5,257.1 394.9,260.3 395.3,258.7 395.7,257.5 396.1,257.9 396.5,257.7 396.9,258.4 397.3,257.9 397.7,259.1 398.1,257.5 398.5,259.3 398.9,260.2 399.3,259.6 399.7,257.0 400.1,258.5 400.5,259.7 400.9,256.8 401.3,260.1 401.7,256.8 402.1,256.8 402.5,256.3 402.9,259.5 403.3,256.3 403.7,257.9 404.1,258.3 404.5,257.8 404.9,259.7 405.3,258.1 405.7,255.8 406.1,257.2 406.5,256.3 406.9,259.0 407.3,256.4 407.7,258.0 408.1,257.1 408.5,257.0 408.9,257.3 409.3,256.2 409.7,257.6 410.1,257.4 410.5,258.1 410.9,258.0 411.3,255.2 411.7,257.8 412.1,255.9 412.5,258.2 412.9,256.6 413.3,255.1 413.7,256.3 414.1,256.3 414.5,256.0 414.9,255.5 415.3,256.2 415.7,255.9 416.1,256.8 416.5,255.0 416.9,255.3 417.3,253.5 417.7,256.2 418.1,253.5 418.5,256.6 418.9,255.1 419.3,255.2 419.7,254.4 420.1,255.0 420.5,253.3 420.9,253.6 421.3,255.1 421.7,254.2 422.1,255.1 422.5,255.1 422.9,257.0 423.3,255.8 423.7,253.4 424.1,255.9 424.5,254.7 424.9,254.2 425.3,254.9 425.7,257.0 426.1,256.6 426.5,255.4 426.9,257.0 427.3,255.7 427.7,254.4 428.1,256.6 428.5,257.2 428.9,256.6 429.3,255.1 429.7,255.9 430.1,254.6 430.5,254.9 430.9,254.1 431.3,257.4 431.7,256.4 432.1,255.4 432.5,256.0 432.9,256.0 433.3,255.0 433.7,254.1 434.1,254.9 434.5,254.9 434.9,254.2 435.3,253.5 435.7,254.8 436.1,254.9 436.5,253.2 436.9,252.7 437.3,255.0 437.7,255.8 438.1,254.7 438.5,254.9 438.9,254.5 439.3,253.1 439.7,253.7 440.1,253.2 440.5,255.3 440.9,252.1 441.3,255.6 441.7,252.5 442.1,253.3 442.5,254.4 442.9,255.9 443.3,255.8 443.7,255.5 444.1,255.2 444.5,255.7 444.9,254.2 445.3,253.3 445.7,255.5 446.1,254.2 446.5,255.3 446.9,256.6 447.3,257.3 447.7,253.9 448.1,256.8 448.5,254.0 448.9,254.9 449.3,255.9 449.7,255.2 450.1,253.9 450.5,255.7 450.9,252.8 451.3,255.2 451.7,255.6 452.1,254.9 452.5,252.0 452.9,252.9 453.3,251.6 453.7,252.4 454.1,252.5 454.5,251.4 454.9,252.4 455.3,253.9 455.7,253.4 456.1,252.1 456.5,251.6 456.9,251.7 457.3,254.5 457.7,252.5 458.1,253.6 458.5,251.7 458.9,253.1 459.3,250.2 459.7,251.1 460.1,250.5 460.5,250.2 460.9,248.6 461.3,249.8 461.7,251.0 462.1,248.4 462.5,248.1 462.9,249.2 463.3,249.7 463.7,252.0 464.1,249.1 464.5,249.4 464.9,251.6 465.3,251.1 465.7,249.7 466.1,251.1 466.5,249.5 466.9,251.3 467.3,248.0 467.7,248.8 468.1,246.8 468.5,246.3 468.9,249.1 469.3,248.5 469.7,248.3 470.1,247.7 470.5,248.7 470.9,247.3 471.3,247.5 471.7,247.9 472.1,248.5 472.5,249.3 472.9,250.0 473.3,249.5 473.7,250.0 474.1,251.5 474.5,251.3 474.9,249.0 475.3,250.0 475.7,248.1 476.1,249.9 476.5,249.7 476.9,247.8 477.3,250.1 477.7,249.1 478.1,250.2 478.5,247.2 478.9,246.4 479.3,248.4 479.7,247.9 480.1,245.6 480.5,246.0 480.9,244.6 481.3,245.3 481.7,246.9 482.1,243.8 482.5,243.8 482.9,245.6 483.3,246.5 483.7,245.2 484.1,245.8 484.5,246.1 484.9,247.3 485.3,248.6 485.7,249.1 486.1,248.2 486.5,248.3 486.9,250.2 487.3,249.0 487.7,249.2 488.1,244.9 488.5,246.4 488.9,245.7 489.3,243.1 489.7,240.8 490.1,241.6 490.5,244.9 490.9,245.0 491.3,244.2 491.7,247.1 492.1,245.0 492.5,248.4 492.9,248.6 493.3,251.1 493.7,248.9 494.1,248.1 494.5,247.1 494.9,246.4 495.3,245.5 495.7,243.4 496.1,243.4 496.5,240.9 496.9,242.0 497.3,243.0 497.7,241.7 498.1,242.8 498.5,245.4 498.9,245.5 499.3,245.6 499.7,245.8 500.1,247.8 500.5,246.6 500.9,247.1 501.3,247.5 501.7,244.9 502.1,244.5 502.5,244.8 502.9,244.3 503.3,243.6 503.7,241.9 504.1,240.8 504.5,242.5 504.9,242.7 505.3,242.4 505.7,241.8 506.1,241.5 506.5,243.6 506.9,245.5 507.3,245.7 507.7,245.6 508.1,244.8 508.5,246.9 508.9,247.3 509.3,245.6 509.7,246.8 510.1,246.0 510.5,243.5 510.9,242.8 511.3,240.0 511.7,242.6 512.1,243.2 512.5,240.9 512.9,241.0 513.3,241.6" fill="none" stroke="#00f" stroke-width="1.7" stroke-linejoin="round" clip-path="url(#cf)"/>
<rect x="69.75" y="8.30" width="443.75" height="41.30" fill="none" stroke="#000" stroke-width="1.5"/>
<rect x="69.75" y="53.70" width="443.75" height="38.80" fill="none" stroke="#000" stroke-width="1.5"/>
<rect x="69.75" y="92.60" width="443.75" height="42.60" fill="none" stroke="#000" stroke-width="1.5"/>
<rect x="69.75" y="135.20" width="443.75" height="43.00" fill="none" stroke="#000" stroke-width="1.5"/>
<rect x="69.75" y="178.20" width="443.75" height="43.00" fill="none" stroke="#000" stroke-width="1.5"/>
<rect x="69.75" y="221.20" width="443.75" height="42.90" fill="none" stroke="#000" stroke-width="1.5"/>
<line x1="69.00" y1="92.40" x2="514.25" y2="92.40" stroke="#000" stroke-width="2.2"/>
<line x1="69.00" y1="134.90" x2="514.25" y2="134.90" stroke="#000" stroke-width="2.0"/>
<line x1="69.00" y1="178.20" x2="514.25" y2="178.20" stroke="#000" stroke-width="1.9"/>
<line x1="69.00" y1="221.30" x2="514.25" y2="221.30" stroke="#000" stroke-width="1.9"/>
<line x1="69.00" y1="264.10" x2="514.25" y2="264.10" stroke="#000" stroke-width="1.7"/>
<path d="M69.75 15.40h8M513.50 15.40h-8M69.75 22.50h8M513.50 22.50h-8M69.75 29.60h8M513.50 29.60h-8M69.75 36.70h8M513.50 36.70h-8M69.75 43.80h8M513.50 43.80h-8M69.75 11.85h4M513.50 11.85h-4M69.75 18.95h4M513.50 18.95h-4M69.75 26.05h4M513.50 26.05h-4M69.75 33.15h4M513.50 33.15h-4M69.75 40.25h4M513.50 40.25h-4M69.75 47.35h4M513.50 47.35h-4M69.75 67.00h8M513.50 67.00h-8M69.75 80.50h8M513.50 80.50h-8M69.75 60.25h4M513.50 60.25h-4M69.75 73.75h4M513.50 73.75h-4M69.75 87.25h4M513.50 87.25h-4M69.75 102.23h8M513.50 102.23h-8M69.75 110.89h8M513.50 110.89h-8M69.75 119.55h8M513.50 119.55h-8M69.75 128.21h8M513.50 128.21h-8M69.75 97.90h4M513.50 97.90h-4M69.75 106.56h4M513.50 106.56h-4M69.75 115.22h4M513.50 115.22h-4M69.75 123.88h4M513.50 123.88h-4M69.75 132.54h4M513.50 132.54h-4M69.75 144.83h8M513.50 144.83h-8M69.75 153.49h8M513.50 153.49h-8M69.75 162.15h8M513.50 162.15h-8M69.75 170.81h8M513.50 170.81h-8M69.75 140.50h4M513.50 140.50h-4M69.75 149.16h4M513.50 149.16h-4M69.75 157.82h4M513.50 157.82h-4M69.75 166.48h4M513.50 166.48h-4M69.75 175.14h4M513.50 175.14h-4M69.75 187.83h8M513.50 187.83h-8M69.75 196.49h8M513.50 196.49h-8M69.75 205.15h8M513.50 205.15h-8M69.75 213.81h8M513.50 213.81h-8M69.75 183.50h4M513.50 183.50h-4M69.75 192.16h4M513.50 192.16h-4M69.75 200.82h4M513.50 200.82h-4M69.75 209.48h4M513.50 209.48h-4M69.75 218.14h4M513.50 218.14h-4M69.75 230.83h8M513.50 230.83h-8M69.75 239.49h8M513.50 239.49h-8M69.75 248.15h8M513.50 248.15h-8M69.75 256.81h8M513.50 256.81h-8M69.75 226.50h4M513.50 226.50h-4M69.75 235.16h4M513.50 235.16h-4M69.75 243.82h4M513.50 243.82h-4M69.75 252.48h4M513.50 252.48h-4M69.75 261.14h4M513.50 261.14h-4M91.94 8.30v2M91.94 264.10v-2M114.12 8.30v2M114.12 264.10v-2M136.31 8.30v2M136.31 264.10v-2M158.50 8.30v2M158.50 264.10v-2M180.69 8.30v4M180.69 264.10v-4M202.88 8.30v2M202.88 264.10v-2M225.06 8.30v2M225.06 264.10v-2M247.25 8.30v2M247.25 264.10v-2M269.44 8.30v2M269.44 264.10v-2M291.62 8.30v4M291.62 264.10v-4M313.81 8.30v2M313.81 264.10v-2M336.00 8.30v2M336.00 264.10v-2M358.19 8.30v2M358.19 264.10v-2M380.38 8.30v2M380.38 264.10v-2M402.56 8.30v4M402.56 264.10v-4M424.75 8.30v2M424.75 264.10v-2M446.94 8.30v2M446.94 264.10v-2M469.12 8.30v2M469.12 264.10v-2M491.31 8.30v2M491.31 264.10v-2" stroke="#000" stroke-width="1.3" fill="none"/>
<text x="52.3" y="14.6" font-size="14" text-anchor="middle" font-weight="normal" fill="#000" font-family="'Liberation Sans', Arial, Helvetica, sans-serif">4.0</text>
<text x="52.3" y="41.8" font-size="14" text-anchor="middle" font-weight="normal" fill="#000" font-family="'Liberation Sans', Arial, Helvetica, sans-serif">2.0</text>
<text x="52.3" y="57.6" font-size="14" text-anchor="middle" font-weight="normal" fill="#000" font-family="'Liberation Sans', Arial, Helvetica, sans-serif">0.0</text>
<text x="52.3" y="85.5" font-size="14" text-anchor="middle" font-weight="normal" fill="#000" font-family="'Liberation Sans', Arial, Helvetica, sans-serif">-10.0</text>
<text x="52.3" y="107.4" font-size="14" text-anchor="middle" font-weight="normal" fill="#000" font-family="'Liberation Sans', Arial, Helvetica, sans-serif">0.4</text>
<text x="52.3" y="123.7" font-size="14" text-anchor="middle" font-weight="normal" fill="#000" font-family="'Liberation Sans', Arial, Helvetica, sans-serif">0.2</text>
<text x="52.3" y="139.5" font-size="14" text-anchor="middle" font-weight="normal" fill="#000" font-family="'Liberation Sans', Arial, Helvetica, sans-serif">0.0</text>
<text x="52.3" y="150.0" font-size="14" text-anchor="middle" font-weight="normal" fill="#000" font-family="'Liberation Sans', Arial, Helvetica, sans-serif">0.4</text>
<text x="52.3" y="166.3" font-size="14" text-anchor="middle" font-weight="normal" fill="#000" font-family="'Liberation Sans', Arial, Helvetica, sans-serif">0.2</text>
<text x="52.3" y="182.1" font-size="14" text-anchor="middle" font-weight="normal" fill="#000" font-family="'Liberation Sans', Arial, Helvetica, sans-serif">0.0</text>
<text x="52.3" y="193.0" font-size="14" text-anchor="middle" font-weight="normal" fill="#000" font-family="'Liberation Sans', Arial, Helvetica, sans-serif">0.4</text>
<text x="52.3" y="209.3" font-size="14" text-anchor="middle" font-weight="normal" fill="#000" font-family="'Liberation Sans', Arial, Helvetica, sans-serif">0.2</text>
<text x="52.3" y="225.1" font-size="14" text-anchor="middle" font-weight="normal" fill="#000" font-family="'Liberation Sans', Arial, Helvetica, sans-serif">0.0</text>
<text x="52.3" y="236.0" font-size="14" text-anchor="middle" font-weight="normal" fill="#000" font-family="'Liberation Sans', Arial, Helvetica, sans-serif">0.4</text>
<text x="52.3" y="252.3" font-size="14" text-anchor="middle" font-weight="normal" fill="#000" font-family="'Liberation Sans', Arial, Helvetica, sans-serif">0.2</text>
<text x="52.3" y="268.1" font-size="14" text-anchor="middle" font-weight="normal" fill="#000" font-family="'Liberation Sans', Arial, Helvetica, sans-serif">0.0</text>
<text x="74.0" y="278.5" font-size="14" text-anchor="middle" font-weight="normal" fill="#000" font-family="'Liberation Sans', Arial, Helvetica, sans-serif">0.15</text>
<text x="185.0" y="278.5" font-size="14" text-anchor="middle" font-weight="normal" fill="#000" font-family="'Liberation Sans', Arial, Helvetica, sans-serif">0.20</text>
<text x="295.9" y="278.5" font-size="14" text-anchor="middle" font-weight="normal" fill="#000" font-family="'Liberation Sans', Arial, Helvetica, sans-serif">0.25</text>
<text x="406.9" y="278.5" font-size="14" text-anchor="middle" font-weight="normal" fill="#000" font-family="'Liberation Sans', Arial, Helvetica, sans-serif">0.30</text>
<text x="517.8" y="278.5" font-size="14" text-anchor="middle" font-weight="normal" fill="#000" font-family="'Liberation Sans', Arial, Helvetica, sans-serif">0.35</text>
<text x="247.0" y="309.9" font-size="18" text-anchor="start" font-weight="normal" fill="#000" font-family="'Liberation Sans', Arial, Helvetica, sans-serif" letter-spacing="0.6">Time</text>
<text x="292.4" y="309.9" font-size="18" text-anchor="start" font-weight="normal" fill="#000" font-family="'Liberation Sans', Arial, Helvetica, sans-serif" letter-spacing="0.25">(Sec)</text>
<text x="465.7" y="28.5" font-size="14.5" text-anchor="middle" font-weight="bold" fill="#000" font-family="'Liberation Sans', Arial, Helvetica, sans-serif">(a)</text>
<text x="470.5" y="66.3" font-size="14.5" text-anchor="middle" font-weight="bold" fill="#000" font-family="'Liberation Sans', Arial, Helvetica, sans-serif">(b)</text>
<text x="472.6" y="107.3" font-size="14.5" text-anchor="middle" font-weight="bold" fill="#000" font-family="'Liberation Sans', Arial, Helvetica, sans-serif">(c)</text>
<text x="469.6" y="148.8" font-size="14.5" text-anchor="middle" font-weight="bold" fill="#000" font-family="'Liberation Sans', Arial, Helvetica, sans-serif">(d)</text>
<text x="470.0" y="201.2" font-size="14.5" text-anchor="middle" font-weight="bold" fill="#000" font-family="'Liberation Sans', Arial, Helvetica, sans-serif">(e)</text>
<text x="470.5" y="240.6" font-size="14.5" text-anchor="middle" font-weight="bold" fill="#000" font-family="'Liberation Sans', Arial, Helvetica, sans-serif">(f)</text>
<text x="91.0" y="98.7" font-size="14.5" text-anchor="start" font-weight="normal" fill="#000" font-family="'Liberation Sans', Arial, Helvetica, sans-serif">22260</text>
<text x="91.0" y="152.5" font-size="14.5" text-anchor="start" font-weight="normal" fill="#f00" font-family="'Liberation Sans', Arial, Helvetica, sans-serif">22263</text>
<text x="91.0" y="187.6" font-size="14.5" text-anchor="start" font-weight="normal" fill="#0f0" font-family="'Liberation Sans', Arial, Helvetica, sans-serif">22265</text>
<text x="91.0" y="230.1" font-size="14.5" text-anchor="start" font-weight="normal" fill="#00f" font-family="'Liberation Sans', Arial, Helvetica, sans-serif">22264</text>
<text font-size="18" font-family="'Liberation Sans', Arial, Helvetica, sans-serif"><tspan x="83.2" y="27.2">n</tspan><tspan font-size="14" x="93.6" y="32.7">e</tspan><tspan x="105.5" y="27.4">(x10</tspan><tspan font-size="14.5" x="140.7" y="21.7">19</tspan><tspan x="160.6" y="27.2">m</tspan><tspan font-size="11" x="176.9" y="20.7">-</tspan><tspan font-size="17.5" x="179.3" y="21.6">3</tspan><tspan x="188.9" y="27.4">)</tspan></text>
<text transform="translate(18.7,111.3) rotate(-90)" font-size="18.2" font-family="'Liberation Sans', Arial, Helvetica, sans-serif">I<tspan font-size="13.7" dy="5.3">EFCC</tspan><tspan dy="-5.3" dx="-0.5">(kA)</tspan></text>
<text transform="translate(20,232.2) rotate(-90)" font-size="18.3" font-family="'Liberation Sans', Arial, Helvetica, sans-serif">D<tspan font-size="18.5" font-style="italic" dy="6.4" dx="0.8">&#945;</tspan><tspan dy="-6.4"> (arb)</tspan></text>
</svg>
</body></html>
